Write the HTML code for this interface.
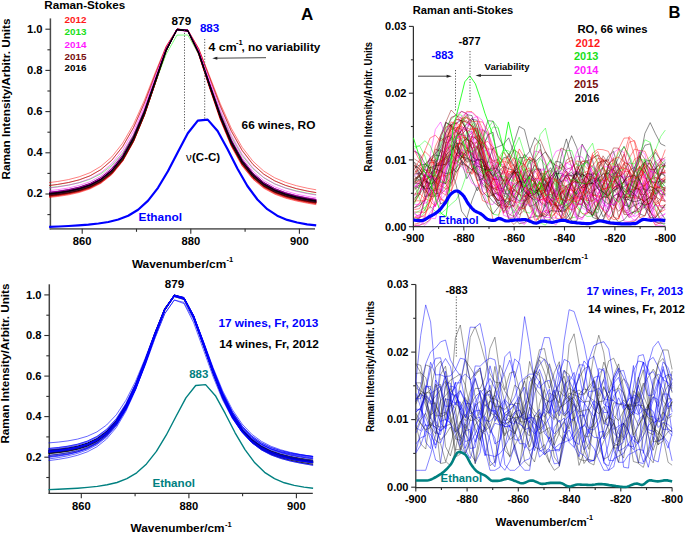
<!DOCTYPE html>
<html><head><meta charset="utf-8"><style>
html,body{margin:0;padding:0;background:#fff;}
svg{display:block;}
text{font-family:"Liberation Sans",sans-serif;}
</style></head><body>
<svg width="685" height="533" viewBox="0 0 685 533">
<rect width="685" height="533" fill="#fff"/>
<line x1="50.4" y1="18.4" x2="50.4" y2="229.5" stroke="#4a4a4a" stroke-width="1.5" />
<line x1="49.7" y1="228.8" x2="315" y2="228.8" stroke="#6a6a6a" stroke-width="1.8" />
<line x1="47.4" y1="214.6" x2="50.4" y2="214.6" stroke="#2e2e2e" stroke-width="1.1" />
<line x1="45.4" y1="194" x2="50.4" y2="194" stroke="#2e2e2e" stroke-width="1.1" />
<line x1="47.4" y1="173.4" x2="50.4" y2="173.4" stroke="#2e2e2e" stroke-width="1.1" />
<line x1="45.4" y1="152.8" x2="50.4" y2="152.8" stroke="#2e2e2e" stroke-width="1.1" />
<line x1="47.4" y1="132.2" x2="50.4" y2="132.2" stroke="#2e2e2e" stroke-width="1.1" />
<line x1="45.4" y1="111.6" x2="50.4" y2="111.6" stroke="#2e2e2e" stroke-width="1.1" />
<line x1="47.4" y1="91" x2="50.4" y2="91" stroke="#2e2e2e" stroke-width="1.1" />
<line x1="45.4" y1="70.4" x2="50.4" y2="70.4" stroke="#2e2e2e" stroke-width="1.1" />
<line x1="47.4" y1="49.8" x2="50.4" y2="49.8" stroke="#2e2e2e" stroke-width="1.1" />
<line x1="45.4" y1="29.2" x2="50.4" y2="29.2" stroke="#2e2e2e" stroke-width="1.1" />
<line x1="82.2" y1="228.8" x2="82.2" y2="233.8" stroke="#2e2e2e" stroke-width="1.1" />
<line x1="136.5" y1="228.8" x2="136.5" y2="231.8" stroke="#2e2e2e" stroke-width="1.1" />
<line x1="190.8" y1="228.8" x2="190.8" y2="233.8" stroke="#2e2e2e" stroke-width="1.1" />
<line x1="245.1" y1="228.8" x2="245.1" y2="231.8" stroke="#2e2e2e" stroke-width="1.1" />
<line x1="299.4" y1="228.8" x2="299.4" y2="233.8" stroke="#2e2e2e" stroke-width="1.1" />
<path d="M49.1,194.9 57.5,193.9 68.4,192.2 79.2,189.8 90.1,186.2 100.9,180.5 111.8,171.7 122.7,158.3 133.5,138.9 144.4,113 155.2,81.7 166.1,50.3 177,29.6 187.8,30.6 198.7,53.1 209.5,85.3 220.4,116.9 231.3,142.9 242.1,162.5 253,176.1 263.8,185.2 274.7,191.3 285.6,195.4 296.4,198.3 307.3,200.6 316.2,202.1" fill="none" stroke="#ff0000" stroke-width="0.5" stroke-linejoin="round" />
<path d="M49.1,195.7 57.5,194.8 68.4,193.1 79.2,190.8 90.1,187.3 100.9,181.8 111.8,173.2 122.7,160 133.5,140.8 144.4,114.8 155.2,83.2 166.1,51.2 177,29.8 187.8,30.8 198.7,53.8 209.5,86.6 220.4,118.5 231.3,144.7 242.1,164.1 253,177.6 263.8,186.5 274.7,192.4 285.6,196.4 296.4,199.2 307.3,201.4 316.2,202.9" fill="none" stroke="#ff0000" stroke-width="0.5" stroke-linejoin="round" />
<path d="M49.1,195.7 57.5,194.7 68.4,193.1 79.2,190.7 90.1,187.2 100.9,181.7 111.8,173 122.7,159.8 133.5,140.5 144.4,114.4 155.2,82.8 166.1,50.8 177,29.3 187.8,30.3 198.7,53.1 209.5,85.9 220.4,117.9 231.3,144.2 242.1,163.7 253,177.3 263.8,186.3 274.7,192.2 285.6,196.3 296.4,199.2 307.3,201.4 316.2,202.8" fill="none" stroke="#ff0000" stroke-width="0.5" stroke-linejoin="round" />
<path d="M49.1,194.9 57.5,194 68.4,192.3 79.2,190 90.1,186.4 100.9,180.9 111.8,172.3 122.7,159 133.5,139.8 144.4,113.9 155.2,82.4 166.1,50.7 177,29.5 187.8,30.5 198.7,53.3 209.5,85.9 220.4,117.6 231.3,143.7 242.1,163.1 253,176.6 263.8,185.6 274.7,191.5 285.6,195.5 296.4,198.4 307.3,200.6 316.2,202.1" fill="none" stroke="#ff0000" stroke-width="0.5" stroke-linejoin="round" />
<path d="M49.1,196.9 57.5,195.9 68.4,194.2 79.2,191.9 90.1,188.3 100.9,182.8 111.8,174.1 122.7,160.8 133.5,141.3 144.4,115 155.2,83.1 166.1,51 177,29.7 187.8,31.3 198.7,54.7 209.5,87.9 220.4,119.9 231.3,146.1 242.1,165.5 253,178.9 263.8,187.7 274.7,193.6 285.6,197.6 296.4,200.4 307.3,202.6 316.2,204.1" fill="none" stroke="#ff0000" stroke-width="0.5" stroke-linejoin="round" />
<path d="M49.1,197.5 57.5,196.5 68.4,194.9 79.2,192.5 90.1,188.9 100.9,183.4 111.8,174.7 122.7,161.3 133.5,141.8 144.4,115.4 155.2,83.3 166.1,50.8 177,29.3 187.8,30.7 198.7,54.3 209.5,87.6 220.4,119.9 231.3,146.3 242.1,165.9 253,179.3 263.8,188.3 274.7,194.2 285.6,198.2 296.4,201 307.3,203.2 316.2,204.7" fill="none" stroke="#ff0000" stroke-width="0.5" stroke-linejoin="round" />
<path d="M49.1,194.7 57.5,193.7 68.4,192.1 79.2,189.6 90.1,186 100.9,180.3 111.8,171.5 122.7,158.1 133.5,138.6 144.4,112.6 155.2,81.2 166.1,49.9 177,29.4 187.8,31.1 198.7,53.9 209.5,86.3 220.4,117.8 231.3,143.7 242.1,163 253,176.4 263.8,185.4 274.7,191.3 285.6,195.4 296.4,198.3 307.3,200.5 316.2,201.9" fill="none" stroke="#ff0000" stroke-width="0.5" stroke-linejoin="round" />
<path d="M49.1,195 57.5,194 68.4,192.3 79.2,189.9 90.1,186.2 100.9,180.6 111.8,171.7 122.7,158.3 133.5,138.8 144.4,112.8 155.2,81.5 166.1,50 177,29.4 187.8,30.8 198.7,53.5 209.5,85.9 220.4,117.4 231.3,143.4 242.1,162.9 253,176.4 263.8,185.5 274.7,191.5 285.6,195.6 296.4,198.5 307.3,200.7 316.2,202.2" fill="none" stroke="#ff0000" stroke-width="0.5" stroke-linejoin="round" />
<path d="M49.1,196.4 57.5,195.5 68.4,193.8 79.2,191.5 90.1,188 100.9,182.5 111.8,174 122.7,160.8 133.5,141.5 144.4,115.4 155.2,83.7 166.1,51.3 177,29.5 187.8,30.3 198.7,53.3 209.5,86.4 220.4,118.6 231.3,145 242.1,164.5 253,178.1 263.8,187.1 274.7,193 285.6,197 296.4,199.9 307.3,202.1 316.2,203.5" fill="none" stroke="#ff0000" stroke-width="0.5" stroke-linejoin="round" />
<path d="M49.1,194.8 57.5,193.8 68.4,192.1 79.2,189.7 90.1,186 100.9,180.2 111.8,171.3 122.7,157.8 133.5,138.3 144.4,112.3 155.2,81.1 166.1,49.8 177,29.2 187.8,30.4 198.7,52.8 209.5,84.8 220.4,116.4 231.3,142.5 242.1,162.1 253,175.8 263.8,185 274.7,191.1 285.6,195.3 296.4,198.3 307.3,200.5 316.2,202" fill="none" stroke="#ff0000" stroke-width="0.5" stroke-linejoin="round" />
<path d="M49.1,194.8 57.5,193.8 68.4,192.1 79.2,189.7 90.1,186 100.9,180.4 111.8,171.5 122.7,158.1 133.5,138.6 144.4,112.6 155.2,81.3 166.1,49.9 177,29.2 187.8,30.5 198.7,53.2 209.5,85.5 220.4,117.1 231.3,143.1 242.1,162.6 253,176.1 263.8,185.2 274.7,191.2 285.6,195.3 296.4,198.2 307.3,200.5 316.2,201.9" fill="none" stroke="#ff0000" stroke-width="0.5" stroke-linejoin="round" />
<path d="M49.1,193.3 57.5,192.3 68.4,190.7 79.2,188.3 90.1,184.8 100.9,179.3 111.8,170.7 122.7,157.6 133.5,138.5 144.4,112.9 155.2,81.8 166.1,50.3 177,29.2 187.8,30.1 198.7,52.4 209.5,84.6 220.4,116.1 231.3,142.1 242.1,161.4 253,174.9 263.8,183.9 274.7,189.8 285.6,193.9 296.4,196.8 307.3,198.9 316.2,200.4" fill="none" stroke="#ff0000" stroke-width="0.5" stroke-linejoin="round" />
<path d="M49.1,195.6 57.5,194.5 68.4,192.8 79.2,190.3 90.1,186.6 100.9,180.8 111.8,171.8 122.7,158.2 133.5,138.7 144.4,112.7 155.2,81.5 166.1,50.4 177,29.7 187.8,30.5 198.7,52.5 209.5,84.4 220.4,116 231.3,142.2 242.1,162 253,176 263.8,185.4 274.7,191.6 285.6,195.9 296.4,198.9 307.3,201.2 316.2,202.7" fill="none" stroke="#ff0000" stroke-width="0.5" stroke-linejoin="round" />
<path d="M49.1,194.8 57.5,193.8 68.4,192.1 79.2,189.6 90.1,186 100.9,180.3 111.8,171.4 122.7,157.9 133.5,138.5 144.4,112.6 155.2,81.4 166.1,50.2 177,29.5 187.8,30.5 198.7,52.9 209.5,85 220.4,116.5 231.3,142.5 242.1,162.1 253,175.8 263.8,185 274.7,191.1 285.6,195.2 296.4,198.2 307.3,200.4 316.2,201.9" fill="none" stroke="#ff0000" stroke-width="0.5" stroke-linejoin="round" />
<path d="M49.1,195 57.5,194 68.4,192.3 79.2,189.8 90.1,186.2 100.9,180.5 111.8,171.7 122.7,158.3 133.5,139 144.4,113.1 155.2,81.9 166.1,50.5 177,29.5 187.8,30.1 198.7,52.2 209.5,84.4 220.4,116 231.3,142.2 242.1,162 253,175.8 263.8,185 274.7,191.2 285.6,195.3 296.4,198.3 307.3,200.6 316.2,202.1" fill="none" stroke="#ff0000" stroke-width="0.5" stroke-linejoin="round" />
<path d="M49.1,182.6 57.5,181.5 68.4,179.6 79.2,176.8 90.1,172.7 100.9,166.3 111.8,156.9 122.7,143.1 133.5,124.3 144.4,100.3 155.2,72.7 166.1,46.2 177,29.2 187.8,30.1 198.7,48.5 209.5,75.9 220.4,103.9 231.3,128.2 242.1,147.2 253,161.3 263.8,171.1 274.7,177.8 285.6,182.4 296.4,185.7 307.3,188.2 316.2,189.8" fill="none" stroke="#ff0000" stroke-width="0.5" stroke-linejoin="round" />
<path d="M49.1,185.6 57.5,184.5 68.4,182.6 79.2,179.9 90.1,175.8 100.9,169.6 111.8,160.2 122.7,146.5 133.5,127.5 144.4,103.1 155.2,74.7 166.1,47.1 177,29.2 187.8,29.8 198.7,48.7 209.5,77 220.4,105.9 231.3,130.7 242.1,150.1 253,164.3 263.8,174.1 274.7,180.8 285.6,185.4 296.4,188.7 307.3,191.1 316.2,192.7" fill="none" stroke="#ff0000" stroke-width="0.5" stroke-linejoin="round" />
<path d="M49.1,194.4 57.5,193.5 68.4,191.8 79.2,189.4 90.1,185.8 100.9,180.2 111.8,171.4 122.7,158.1 133.5,138.8 144.4,113 155.2,81.8 166.1,50.4 177,29.6 187.8,30.7 198.7,53.1 209.5,85.3 220.4,116.8 231.3,142.8 242.1,162.3 253,175.8 263.8,184.9 274.7,190.9 285.6,195 296.4,197.9 307.3,200.1 316.2,201.6" fill="none" stroke="#8b0000" stroke-width="0.5" stroke-linejoin="round" />
<path d="M49.1,192.9 57.5,191.9 68.4,190.2 79.2,187.8 90.1,184.2 100.9,178.6 111.8,169.8 122.7,156.5 133.5,137.3 144.4,111.7 155.2,80.9 166.1,50 177,29.5 187.8,30.5 198.7,52.6 209.5,84.3 220.4,115.5 231.3,141.3 242.1,160.6 253,174.2 263.8,183.3 274.7,189.3 285.6,193.4 296.4,196.3 307.3,198.5 316.2,200" fill="none" stroke="#8b0000" stroke-width="0.5" stroke-linejoin="round" />
<path d="M49.1,195.3 57.5,194.4 68.4,192.8 79.2,190.4 90.1,186.9 100.9,181.5 111.8,173 122.7,159.8 133.5,140.6 144.4,114.7 155.2,83.1 166.1,50.9 177,29.3 187.8,30 198.7,52.8 209.5,85.7 220.4,117.7 231.3,144 242.1,163.5 253,177 263.8,186 274.7,191.9 285.6,195.9 296.4,198.8 307.3,201 316.2,202.5" fill="none" stroke="#8b0000" stroke-width="0.5" stroke-linejoin="round" />
<path d="M49.1,193 57.5,192 68.4,190.3 79.2,187.8 90.1,184.1 100.9,178.5 111.8,169.6 122.7,156.2 133.5,136.9 144.4,111.2 155.2,80.4 166.1,49.6 177,29.3 187.8,30.5 198.7,52.5 209.5,84.2 220.4,115.3 231.3,141.1 242.1,160.5 253,174.1 263.8,183.3 274.7,189.3 285.6,193.5 296.4,196.4 307.3,198.6 316.2,200.1" fill="none" stroke="#8b0000" stroke-width="0.5" stroke-linejoin="round" />
<path d="M49.1,195.1 57.5,194.1 68.4,192.4 79.2,190 90.1,186.4 100.9,180.8 111.8,172 122.7,158.6 133.5,139.2 144.4,113.2 155.2,81.8 166.1,50.2 177,29.3 187.8,30.4 198.7,53.1 209.5,85.5 220.4,117.1 231.3,143.3 242.1,162.8 253,176.4 263.8,185.5 274.7,191.5 285.6,195.6 296.4,198.5 307.3,200.7 316.2,202.2" fill="none" stroke="#8b0000" stroke-width="0.5" stroke-linejoin="round" />
<path d="M49.1,196.3 57.5,195.4 68.4,193.7 79.2,191.4 90.1,187.9 100.9,182.5 111.8,173.9 122.7,160.8 133.5,141.5 144.4,115.5 155.2,83.7 166.1,51.4 177,29.5 187.8,30.1 198.7,53 209.5,86 220.4,118.2 231.3,144.7 242.1,164.3 253,177.9 263.8,186.9 274.7,192.9 285.6,196.9 296.4,199.8 307.3,202 316.2,203.4" fill="none" stroke="#8b0000" stroke-width="0.5" stroke-linejoin="round" />
<path d="M49.1,195.7 57.5,194.8 68.4,193.1 79.2,190.7 90.1,187.1 100.9,181.5 111.8,172.8 122.7,159.5 133.5,140.1 144.4,114.2 155.2,82.8 166.1,51.1 177,29.8 187.8,30.5 198.7,52.9 209.5,85.3 220.4,117.1 231.3,143.4 242.1,163.1 253,176.8 263.8,186 274.7,192.1 285.6,196.2 296.4,199.1 307.3,201.4 316.2,202.8" fill="none" stroke="#8b0000" stroke-width="0.5" stroke-linejoin="round" />
<path d="M49.1,194.7 57.5,193.7 68.4,192 79.2,189.6 90.1,186 100.9,180.5 111.8,171.7 122.7,158.4 133.5,139 144.4,113 155.2,81.7 166.1,50.2 177,29.5 187.8,31 198.7,53.8 209.5,86.3 220.4,117.8 231.3,143.7 242.1,163 253,176.4 263.8,185.4 274.7,191.3 285.6,195.3 296.4,198.2 307.3,200.4 316.2,201.9" fill="none" stroke="#8b0000" stroke-width="0.5" stroke-linejoin="round" />
<path d="M49.1,194.3 57.5,193.3 68.4,191.6 79.2,189.2 90.1,185.6 100.9,179.9 111.8,171.1 122.7,157.7 133.5,138.3 144.4,112.4 155.2,81.2 166.1,50 177,29.4 187.8,30.6 198.7,53 209.5,85.1 220.4,116.6 231.3,142.5 242.1,162 253,175.6 263.8,184.7 274.7,190.8 285.6,194.9 296.4,197.8 307.3,200 316.2,201.5" fill="none" stroke="#8b0000" stroke-width="0.5" stroke-linejoin="round" />
<path d="M49.1,195.1 57.5,194.1 68.4,192.4 79.2,190 90.1,186.4 100.9,180.8 111.8,172 122.7,158.6 133.5,139.3 144.4,113.3 155.2,82 166.1,50.5 177,29.7 187.8,31 198.7,53.7 209.5,86.1 220.4,117.7 231.3,143.7 242.1,163.1 253,176.6 263.8,185.6 274.7,191.6 285.6,195.7 296.4,198.6 307.3,200.8 316.2,202.2" fill="none" stroke="#8b0000" stroke-width="0.5" stroke-linejoin="round" />
<path d="M49.1,192.5 57.5,191.6 68.4,189.9 79.2,187.4 90.1,183.8 100.9,178.2 111.8,169.4 122.7,156.1 133.5,136.9 144.4,111.3 155.2,80.5 166.1,49.7 177,29.2 187.8,30.1 198.7,52.1 209.5,83.7 220.4,114.9 231.3,140.7 242.1,160.1 253,173.7 263.8,182.8 274.7,188.9 285.6,193 296.4,196 307.3,198.2 316.2,199.7" fill="none" stroke="#8b0000" stroke-width="0.5" stroke-linejoin="round" />
<path d="M49.1,195 57.5,194 68.4,192.4 79.2,190 90.1,186.4 100.9,180.9 111.8,172.2 122.7,158.9 133.5,139.6 144.4,113.7 155.2,82.3 166.1,50.5 177,29.3 187.8,30.2 198.7,52.8 209.5,85.3 220.4,117.1 231.3,143.3 242.1,162.8 253,176.4 263.8,185.5 274.7,191.5 285.6,195.5 296.4,198.4 307.3,200.6 316.2,202.1" fill="none" stroke="#8b0000" stroke-width="0.5" stroke-linejoin="round" />
<path d="M49.1,194.5 57.5,193.5 68.4,191.9 79.2,189.5 90.1,185.8 100.9,180.2 111.8,171.5 122.7,158.2 133.5,138.9 144.4,113.1 155.2,81.9 166.1,50.5 177,29.5 187.8,30.2 198.7,52.4 209.5,84.5 220.4,116.1 231.3,142.3 242.1,161.9 253,175.6 263.8,184.8 274.7,190.8 285.6,195 296.4,197.9 307.3,200.1 316.2,201.6" fill="none" stroke="#8b0000" stroke-width="0.5" stroke-linejoin="round" />
<path d="M49.1,193.9 57.5,192.9 68.4,191.2 79.2,188.8 90.1,185.2 100.9,179.6 111.8,170.8 122.7,157.5 133.5,138.2 144.4,112.4 155.2,81.3 166.1,50.1 177,29.6 187.8,30.9 198.7,53.5 209.5,85.6 220.4,116.9 231.3,142.7 242.1,162 253,175.5 263.8,184.5 274.7,190.4 285.6,194.5 296.4,197.4 307.3,199.6 316.2,201" fill="none" stroke="#8b0000" stroke-width="0.5" stroke-linejoin="round" />
<path d="M49.1,193 57.5,192 68.4,190.3 79.2,187.9 90.1,184.3 100.9,178.6 111.8,169.8 122.7,156.5 133.5,137.3 144.4,111.7 155.2,80.9 166.1,50 177,29.5 187.8,30.4 198.7,52.3 209.5,83.9 220.4,115.1 231.3,141 242.1,160.4 253,174.1 263.8,183.2 274.7,189.3 285.6,193.5 296.4,196.4 307.3,198.6 316.2,200.1" fill="none" stroke="#8b0000" stroke-width="0.5" stroke-linejoin="round" />
<path d="M49.1,193 57.5,192 68.4,190.3 79.2,187.8 90.1,184.1 100.9,178.3 111.8,169.4 122.7,155.9 133.5,136.6 144.4,110.9 155.2,80.3 166.1,49.9 177,29.8 187.8,30.9 198.7,52.6 209.5,84 220.4,114.9 231.3,140.7 242.1,160.1 253,173.8 263.8,183.1 274.7,189.3 285.6,193.5 296.4,196.4 307.3,198.7 316.2,200.2" fill="none" stroke="#8b0000" stroke-width="0.5" stroke-linejoin="round" />
<path d="M49.1,195.9 57.5,194.9 68.4,193.2 79.2,190.8 90.1,187.1 100.9,181.5 111.8,172.6 122.7,159.2 133.5,139.7 144.4,113.7 155.2,82.2 166.1,50.6 177,29.6 187.8,30.5 198.7,52.9 209.5,85.3 220.4,117.1 231.3,143.4 242.1,163.1 253,176.9 263.8,186.1 274.7,192.2 285.6,196.3 296.4,199.3 307.3,201.5 316.2,203" fill="none" stroke="#8b0000" stroke-width="0.5" stroke-linejoin="round" />
<path d="M49.1,185.5 57.5,184.4 68.4,182.5 79.2,179.8 90.1,175.8 100.9,169.6 111.8,160.2 122.7,146.5 133.5,127.5 144.4,103 155.2,74.6 166.1,47 177,29.2 187.8,30.1 198.7,49.3 209.5,77.8 220.4,106.6 231.3,131.4 242.1,150.6 253,164.6 263.8,174.3 274.7,180.9 285.6,185.4 296.4,188.6 307.3,191 316.2,192.6" fill="none" stroke="#8b0000" stroke-width="0.5" stroke-linejoin="round" />
<path d="M49.1,192.2 57.5,191.2 68.4,189.5 79.2,187.1 90.1,183.5 100.9,177.8 111.8,169.1 122.7,155.8 133.5,136.7 144.4,111.2 155.2,80.6 166.1,50 177,29.7 187.8,30.7 198.7,52.4 209.5,83.9 220.4,114.8 231.3,140.5 242.1,159.8 253,173.4 263.8,182.5 274.7,188.6 285.6,192.7 296.4,195.6 307.3,197.9 316.2,199.3" fill="none" stroke="#00ff00" stroke-width="0.5" stroke-linejoin="round" />
<path d="M49.1,193.2 57.5,192.3 68.4,190.6 79.2,188.2 90.1,184.5 100.9,178.9 111.8,170.2 122.7,156.9 133.5,137.7 144.4,112.1 155.2,81.3 166.1,50.3 177,29.7 187.8,30.5 198.7,52.4 209.5,84.1 220.4,115.3 231.3,141.2 242.1,160.7 253,174.3 263.8,183.5 274.7,189.6 285.6,193.7 296.4,196.6 307.3,198.9 316.2,200.4" fill="none" stroke="#00ff00" stroke-width="0.5" stroke-linejoin="round" />
<path d="M49.1,194.4 57.5,193.4 68.4,191.8 79.2,189.4 90.1,185.8 100.9,180.3 111.8,171.7 122.7,158.5 133.5,139.4 144.4,113.7 155.2,82.5 166.1,51.1 177,30 187.8,30.9 198.7,53.3 209.5,85.5 220.4,117 231.3,143 242.1,162.4 253,175.9 263.8,184.9 274.7,190.9 285.6,194.9 296.4,197.8 307.3,200 316.2,201.5" fill="none" stroke="#00ff00" stroke-width="0.5" stroke-linejoin="round" />
<path d="M49.1,187.6 57.5,186.7 68.4,185.1 79.2,182.7 90.1,179.2 100.9,173.8 111.8,165.4 122.7,152.9 133.5,134.9 144.4,111.2 155.2,82.8 166.1,54.4 177,35.1 187.8,35 198.7,54.2 209.5,83.1 220.4,112.1 231.3,136.6 242.1,155.4 253,168.7 263.8,177.8 274.7,183.9 285.6,188 296.4,190.9 307.3,193.2 316.2,194.6" fill="none" stroke="#00ff00" stroke-width="0.5" stroke-linejoin="round" />
<path d="M49.1,193.1 57.5,192.1 68.4,190.4 79.2,188 90.1,184.3 100.9,178.7 111.8,169.9 122.7,156.6 133.5,137.5 144.4,111.9 155.2,81.1 166.1,50.1 177,29.5 187.8,30.2 198.7,52 209.5,83.6 220.4,114.8 231.3,140.8 242.1,160.3 253,174 263.8,183.2 274.7,189.3 285.6,193.5 296.4,196.4 307.3,198.7 316.2,200.2" fill="none" stroke="#ff00ff" stroke-width="0.5" stroke-linejoin="round" />
<path d="M49.1,192.9 57.5,191.9 68.4,190.3 79.2,187.8 90.1,184.2 100.9,178.6 111.8,169.8 122.7,156.5 133.5,137.3 144.4,111.7 155.2,81 166.1,50.2 177,29.8 187.8,30.9 198.7,52.9 209.5,84.5 220.4,115.6 231.3,141.4 242.1,160.7 253,174.2 263.8,183.3 274.7,189.4 285.6,193.4 296.4,196.4 307.3,198.6 316.2,200.1" fill="none" stroke="#ff00ff" stroke-width="0.5" stroke-linejoin="round" />
<path d="M49.1,193 57.5,192 68.4,190.4 79.2,187.9 90.1,184.3 100.9,178.7 111.8,169.9 122.7,156.5 133.5,137.3 144.4,111.6 155.2,80.8 166.1,49.8 177,29.2 187.8,30.2 198.7,52.2 209.5,83.9 220.4,115.2 231.3,141.1 242.1,160.5 253,174.2 263.8,183.3 274.7,189.4 285.6,193.5 296.4,196.4 307.3,198.7 316.2,200.2" fill="none" stroke="#ff00ff" stroke-width="0.5" stroke-linejoin="round" />
<path d="M49.1,192.8 57.5,191.9 68.4,190.2 79.2,187.8 90.1,184.2 100.9,178.7 111.8,170 122.7,156.8 133.5,137.6 144.4,112 155.2,81.1 166.1,50 177,29.4 187.8,30.4 198.7,52.6 209.5,84.5 220.4,115.7 231.3,141.6 242.1,160.9 253,174.3 263.8,183.4 274.7,189.3 285.6,193.4 296.4,196.3 307.3,198.5 316.2,200" fill="none" stroke="#ff00ff" stroke-width="0.5" stroke-linejoin="round" />
<path d="M49.1,190.7 57.5,189.7 68.4,188 79.2,185.4 90.1,181.7 100.9,175.9 111.8,166.9 122.7,153.4 133.5,134.3 144.4,109 155.2,78.9 166.1,49.1 177,29.5 187.8,30.4 198.7,51.6 209.5,82.2 220.4,112.7 231.3,138.2 242.1,157.5 253,171.3 263.8,180.6 274.7,186.8 285.6,191 296.4,194.1 307.3,196.3 316.2,197.9" fill="none" stroke="#ff00ff" stroke-width="0.5" stroke-linejoin="round" />
<path d="M49.1,192.7 57.5,191.7 68.4,190 79.2,187.5 90.1,183.7 100.9,177.9 111.8,168.9 122.7,155.4 133.5,136.1 144.4,110.5 155.2,79.9 166.1,49.5 177,29.4 187.8,30.4 198.7,52 209.5,83.3 220.4,114.2 231.3,140 242.1,159.5 253,173.3 263.8,182.6 274.7,188.8 285.6,193.1 296.4,196.1 307.3,198.4 316.2,199.9" fill="none" stroke="#ff00ff" stroke-width="0.5" stroke-linejoin="round" />
<path d="M49.1,194.1 57.5,193.2 68.4,191.5 79.2,189 90.1,185.3 100.9,179.6 111.8,170.8 122.7,157.3 133.5,138 144.4,112.1 155.2,81.2 166.1,50.3 177,30 187.8,31.4 198.7,53.8 209.5,85.7 220.4,116.8 231.3,142.6 242.1,162 253,175.5 263.8,184.6 274.7,190.6 285.6,194.7 296.4,197.6 307.3,199.9 316.2,201.3" fill="none" stroke="#ff00ff" stroke-width="0.5" stroke-linejoin="round" />
<path d="M49.1,193 57.5,192 68.4,190.4 79.2,188 90.1,184.4 100.9,178.9 111.8,170.2 122.7,157 133.5,137.9 144.4,112.4 155.2,81.6 166.1,50.7 177,30.1 187.8,31.1 198.7,53.2 209.5,84.9 220.4,116 231.3,141.8 242.1,161 253,174.5 263.8,183.5 274.7,189.5 285.6,193.6 296.4,196.5 307.3,198.7 316.2,200.1" fill="none" stroke="#ff00ff" stroke-width="0.5" stroke-linejoin="round" />
<path d="M49.1,193.6 57.5,192.7 68.4,191 79.2,188.6 90.1,185 100.9,179.4 111.8,170.7 122.7,157.4 133.5,138.2 144.4,112.5 155.2,81.4 166.1,50.2 177,29.4 187.8,30.4 198.7,52.6 209.5,84.7 220.4,116.1 231.3,142 242.1,161.4 253,175 263.8,184.1 274.7,190.1 285.6,194.2 296.4,197.1 307.3,199.3 316.2,200.8" fill="none" stroke="#ff00ff" stroke-width="0.5" stroke-linejoin="round" />
<path d="M49.1,192.7 57.5,191.7 68.4,190 79.2,187.6 90.1,183.9 100.9,178.3 111.8,169.5 122.7,156.2 133.5,137 144.4,111.4 155.2,80.7 166.1,49.9 177,29.4 187.8,30.2 198.7,52 209.5,83.6 220.4,114.7 231.3,140.6 242.1,160 253,173.7 263.8,182.9 274.7,189 285.6,193.1 296.4,196.1 307.3,198.3 316.2,199.8" fill="none" stroke="#ff00ff" stroke-width="0.5" stroke-linejoin="round" />
<path d="M49.1,193.8 57.5,192.9 68.4,191.2 79.2,188.8 90.1,185.1 100.9,179.5 111.8,170.7 122.7,157.4 133.5,138.1 144.4,112.4 155.2,81.4 166.1,50.3 177,29.6 187.8,30.6 198.7,52.8 209.5,84.7 220.4,116.1 231.3,142 242.1,161.5 253,175.1 263.8,184.2 274.7,190.2 285.6,194.3 296.4,197.3 307.3,199.5 316.2,201" fill="none" stroke="#ff00ff" stroke-width="0.5" stroke-linejoin="round" />
<path d="M49.1,192.2 57.5,191.2 68.4,189.5 79.2,187.1 90.1,183.5 100.9,177.9 111.8,169.2 122.7,156 133.5,136.9 144.4,111.4 155.2,80.7 166.1,49.9 177,29.3 187.8,30 198.7,51.9 209.5,83.4 220.4,114.6 231.3,140.4 242.1,159.8 253,173.4 263.8,182.5 274.7,188.5 285.6,192.6 296.4,195.6 307.3,197.8 316.2,199.3" fill="none" stroke="#ff00ff" stroke-width="0.5" stroke-linejoin="round" />
<path d="M49.1,192.4 57.5,191.4 68.4,189.7 79.2,187.3 90.1,183.7 100.9,178.1 111.8,169.4 122.7,156.1 133.5,137 144.4,111.5 155.2,80.9 166.1,50.3 177,30 187.8,31 198.7,52.9 209.5,84.4 220.4,115.3 231.3,141 242.1,160.2 253,173.7 263.8,182.8 274.7,188.8 285.6,192.9 296.4,195.8 307.3,198.1 316.2,199.5" fill="none" stroke="#ff00ff" stroke-width="0.5" stroke-linejoin="round" />
<path d="M49.1,193.9 57.5,192.9 68.4,191.2 79.2,188.7 90.1,185 100.9,179.3 111.8,170.4 122.7,156.9 133.5,137.4 144.4,111.6 155.2,80.6 166.1,49.7 177,29.5 187.8,31.1 198.7,53.5 209.5,85.3 220.4,116.5 231.3,142.3 242.1,161.7 253,175.2 263.8,184.3 274.7,190.4 285.6,194.5 296.4,197.4 307.3,199.6 316.2,201.1" fill="none" stroke="#ff00ff" stroke-width="0.5" stroke-linejoin="round" />
<path d="M49.1,194.7 57.5,193.7 68.4,192 79.2,189.5 90.1,185.8 100.9,180.1 111.8,171.2 122.7,157.7 133.5,138.2 144.4,112.3 155.2,81.2 166.1,50 177,29.5 187.8,30.7 198.7,53.1 209.5,85.1 220.4,116.5 231.3,142.6 242.1,162.1 253,175.8 263.8,184.9 274.7,191 285.6,195.2 296.4,198.1 307.3,200.4 316.2,201.9" fill="none" stroke="#ff00ff" stroke-width="0.5" stroke-linejoin="round" />
<path d="M49.1,192.5 57.5,191.5 68.4,189.9 79.2,187.5 90.1,184 100.9,178.5 111.8,169.9 122.7,156.8 133.5,137.9 144.4,112.4 155.2,81.7 166.1,50.6 177,29.8 187.8,30.5 198.7,52.5 209.5,84.2 220.4,115.4 231.3,141.2 242.1,160.5 253,174 263.8,183 274.7,189 285.6,193 296.4,195.9 307.3,198.1 316.2,199.6" fill="none" stroke="#ff00ff" stroke-width="0.5" stroke-linejoin="round" />
<path d="M49.1,188 57.5,187 68.4,185.2 79.2,182.6 90.1,178.7 100.9,172.8 111.8,163.7 122.7,150.1 133.5,131.1 144.4,106.1 155.2,76.8 166.1,48 177,29.2 187.8,30.1 198.7,50.4 209.5,80.1 220.4,109.8 231.3,134.9 242.1,154.2 253,168 263.8,177.5 274.7,183.9 285.6,188.2 296.4,191.3 307.3,193.6 316.2,195.1" fill="none" stroke="#ff00ff" stroke-width="0.5" stroke-linejoin="round" />
<path d="M49.1,192.5 57.5,191.5 68.4,189.7 79.2,187.2 90.1,183.4 100.9,177.5 111.8,168.5 122.7,154.9 133.5,135.5 144.4,109.9 155.2,79.6 166.1,49.5 177,29.9 187.8,31.1 198.7,52.6 209.5,83.6 220.4,114.3 231.3,139.9 242.1,159.4 253,173.1 263.8,182.4 274.7,188.6 285.6,192.9 296.4,195.9 307.3,198.2 316.2,199.7" fill="none" stroke="#000000" stroke-width="0.5" stroke-linejoin="round" />
<path d="M49.1,193.5 57.5,192.5 68.4,190.9 79.2,188.5 90.1,184.9 100.9,179.4 111.8,170.7 122.7,157.5 133.5,138.4 144.4,112.6 155.2,81.6 166.1,50.3 177,29.5 187.8,30.6 198.7,52.9 209.5,85 220.4,116.4 231.3,142.3 242.1,161.6 253,175.1 263.8,184.1 274.7,190.1 285.6,194.1 296.4,197 307.3,199.2 316.2,200.7" fill="none" stroke="#000000" stroke-width="0.5" stroke-linejoin="round" />
<path d="M49.1,195.2 57.5,194.3 68.4,192.7 79.2,190.4 90.1,186.9 100.9,181.5 111.8,173.1 122.7,160 133.5,140.9 144.4,114.9 155.2,83.2 166.1,50.9 177,29.2 187.8,30.2 198.7,53.4 209.5,86.5 220.4,118.5 231.3,144.7 242.1,164 253,177.4 263.8,186.2 274.7,192 285.6,195.9 296.4,198.8 307.3,200.9 316.2,202.3" fill="none" stroke="#000000" stroke-width="0.5" stroke-linejoin="round" />
<path d="M49.1,194 57.5,193.1 68.4,191.4 79.2,188.9 90.1,185.3 100.9,179.7 111.8,170.8 122.7,157.5 133.5,138.1 144.4,112.3 155.2,81.3 166.1,50.3 177,29.8 187.8,31 198.7,53.4 209.5,85.3 220.4,116.6 231.3,142.4 242.1,161.8 253,175.4 263.8,184.5 274.7,190.5 285.6,194.6 296.4,197.5 307.3,199.7 316.2,201.2" fill="none" stroke="#000000" stroke-width="0.5" stroke-linejoin="round" />
<path d="M49.1,194.1 57.5,193.1 68.4,191.5 79.2,189.1 90.1,185.5 100.9,179.9 111.8,171.2 122.7,157.9 133.5,138.6 144.4,112.7 155.2,81.5 166.1,50.1 177,29.4 187.8,30.8 198.7,53.6 209.5,86 220.4,117.4 231.3,143.3 242.1,162.5 253,175.9 263.8,184.9 274.7,190.8 285.6,194.8 296.4,197.7 307.3,199.8 316.2,201.3" fill="none" stroke="#000000" stroke-width="0.5" stroke-linejoin="round" />
<path d="M49.1,193.9 57.5,192.9 68.4,191.2 79.2,188.7 90.1,185 100.9,179.3 111.8,170.4 122.7,156.9 133.5,137.6 144.4,111.7 155.2,80.8 166.1,49.8 177,29.5 187.8,30.7 198.7,52.9 209.5,84.8 220.4,116 231.3,141.9 242.1,161.4 253,175 263.8,184.1 274.7,190.2 285.6,194.4 296.4,197.3 307.3,199.5 316.2,201" fill="none" stroke="#000000" stroke-width="0.5" stroke-linejoin="round" />
<path d="M49.1,194.6 57.5,193.7 68.4,192 79.2,189.7 90.1,186.1 100.9,180.6 111.8,172 122.7,158.7 133.5,139.5 144.4,113.6 155.2,82.3 166.1,50.6 177,29.5 187.8,30.5 198.7,53.1 209.5,85.6 220.4,117.3 231.3,143.3 242.1,162.8 253,176.3 263.8,185.3 274.7,191.2 285.6,195.2 296.4,198.1 307.3,200.3 316.2,201.8" fill="none" stroke="#000000" stroke-width="0.5" stroke-linejoin="round" />
<path d="M49.1,193.6 57.5,192.7 68.4,191 79.2,188.5 90.1,184.9 100.9,179.3 111.8,170.5 122.7,157.2 133.5,138 144.4,112.4 155.2,81.6 166.1,50.6 177,29.8 187.8,30.3 198.7,52 209.5,83.6 220.4,114.9 231.3,141 242.1,160.6 253,174.4 263.8,183.7 274.7,189.8 285.6,194 296.4,197 307.3,199.2 316.2,200.7" fill="none" stroke="#000000" stroke-width="0.5" stroke-linejoin="round" />
<path d="M49.1,193.3 57.5,192.4 68.4,190.7 79.2,188.3 90.1,184.6 100.9,179 111.8,170.2 122.7,156.8 133.5,137.6 144.4,112 155.2,81.2 166.1,50.3 177,29.8 187.8,30.8 198.7,52.8 209.5,84.5 220.4,115.7 231.3,141.5 242.1,161 253,174.5 263.8,183.7 274.7,189.7 285.6,193.8 296.4,196.8 307.3,199 316.2,200.5" fill="none" stroke="#000000" stroke-width="0.5" stroke-linejoin="round" />
<path d="M49.1,194.1 57.5,193.1 68.4,191.3 79.2,188.9 90.1,185.2 100.9,179.4 111.8,170.5 122.7,157 133.5,137.6 144.4,111.8 155.2,80.8 166.1,49.7 177,29.2 187.8,30.3 198.7,52.3 209.5,84.2 220.4,115.5 231.3,141.6 242.1,161.2 253,174.9 263.8,184.2 274.7,190.3 285.6,194.5 296.4,197.5 307.3,199.7 316.2,201.2" fill="none" stroke="#000000" stroke-width="0.5" stroke-linejoin="round" />
<path d="M49.1,226.8 58.6,226.5 68.6,226 78.5,225.4 88.4,224.6 98.4,223.5 108.3,222 118.3,219.5 128.2,215.7 138.1,209.7 148.1,200.6 158,187.8 167.9,171.3 177.9,152 187.8,133.3 197.8,120.6 207.7,119.6 217.6,131 227.6,149.3 237.5,168.8 247.4,186 257.4,199.5 267.3,209.2 277.2,215.7 287.2,219.9 297.1,222.5 307.1,224.3 316.2,225.4" fill="none" stroke="#0000ff" stroke-width="2.2" stroke-linejoin="round" />
<line x1="184.5" y1="30" x2="184.5" y2="131" stroke="#444" stroke-width="0.9" stroke-dasharray="1.2,1.6"/>
<line x1="204.7" y1="39" x2="204.7" y2="119" stroke="#444" stroke-width="0.9" stroke-dasharray="1.2,1.6"/>
<line x1="215" y1="58.2" x2="266" y2="57.7" stroke="#333" stroke-width="0.9" />
<path d="M212.3,58.3 L217.3,56.8 L217.3,59.8 Z" fill="#222"/>
<text x="44.3" y="8.6" font-size="11.5" fill="#000" text-anchor="start" font-weight="bold" textLength="81" lengthAdjust="spacingAndGlyphs" >Raman-Stokes</text>
<text x="300.9" y="19.7" font-size="17" fill="#000" text-anchor="start" font-weight="bold" >A</text>
<text x="64.5" y="23.1" font-size="9.6" fill="#ff1a1a" text-anchor="start" font-weight="bold" textLength="22" lengthAdjust="spacingAndGlyphs" >2012</text>
<text x="64.5" y="35.3" font-size="9.6" fill="#1adf1a" text-anchor="start" font-weight="bold" textLength="22" lengthAdjust="spacingAndGlyphs" >2013</text>
<text x="64.5" y="47.7" font-size="9.6" fill="#ff1aff" text-anchor="start" font-weight="bold" textLength="22" lengthAdjust="spacingAndGlyphs" >2014</text>
<text x="64.5" y="59.8" font-size="9.6" fill="#7a1010" text-anchor="start" font-weight="bold" textLength="22" lengthAdjust="spacingAndGlyphs" >2015</text>
<text x="64.5" y="71" font-size="9.6" fill="#000" text-anchor="start" font-weight="bold" textLength="22" lengthAdjust="spacingAndGlyphs" >2016</text>
<text x="171.6" y="25" font-size="11" fill="#000" text-anchor="start" font-weight="bold" textLength="19.6" lengthAdjust="spacingAndGlyphs" >879</text>
<text x="199.9" y="32" font-size="11" fill="#0000ff" text-anchor="start" font-weight="bold" textLength="19.4" lengthAdjust="spacingAndGlyphs" >883</text>
<text x="208.5" y="50.5" font-size="11.5" fill="#000" text-anchor="start" font-weight="bold" textLength="28.2" lengthAdjust="spacingAndGlyphs" >4 cm</text>
<text x="236" y="45" font-size="7.5" fill="#000" text-anchor="start" font-weight="bold" >-1</text>
<text x="241.5" y="50.5" font-size="11.5" fill="#000" text-anchor="start" font-weight="bold" textLength="78.8" lengthAdjust="spacingAndGlyphs" >, no variability</text>
<text x="241.6" y="129.1" font-size="11.2" fill="#000" text-anchor="start" font-weight="bold" textLength="73.8" lengthAdjust="spacingAndGlyphs" >66 wines, RO</text>
<text x="186" y="160.9" font-size="11.5" fill="#000" text-anchor="start" font-weight="normal" >&#957;</text>
<text x="192" y="160.9" font-size="10.8" fill="#000" text-anchor="start" font-weight="bold" textLength="28.2" lengthAdjust="spacingAndGlyphs" >(C-C)</text>
<text x="138.5" y="220.8" font-size="11.5" fill="#0000ff" text-anchor="start" font-weight="bold" textLength="43.5" lengthAdjust="spacingAndGlyphs" >Ethanol</text>
<text x="42.5" y="32.5" font-size="11.2" fill="#000" text-anchor="end" font-weight="bold" >1.0</text>
<text x="42.5" y="73.7" font-size="11.2" fill="#000" text-anchor="end" font-weight="bold" >0.8</text>
<text x="42.5" y="114.9" font-size="11.2" fill="#000" text-anchor="end" font-weight="bold" >0.6</text>
<text x="42.5" y="156.1" font-size="11.2" fill="#000" text-anchor="end" font-weight="bold" >0.4</text>
<text x="42.5" y="197.3" font-size="11.2" fill="#000" text-anchor="end" font-weight="bold" >0.2</text>
<text x="82.2" y="244.9" font-size="11.2" fill="#000" text-anchor="middle" font-weight="bold" >860</text>
<text x="190.8" y="244.9" font-size="11.2" fill="#000" text-anchor="middle" font-weight="bold" >880</text>
<text x="299.4" y="244.9" font-size="11.2" fill="#000" text-anchor="middle" font-weight="bold" >900</text>
<text x="131.9" y="267.7" font-size="11.6" fill="#000" text-anchor="start" font-weight="bold" textLength="94.3" lengthAdjust="spacingAndGlyphs" >Wavenumber/cm</text>
<text x="226.5" y="262.3" font-size="7.5" fill="#000" text-anchor="start" font-weight="bold" >-1</text>
<text transform="translate(9.6,99.0) rotate(-90)" font-size="11.7" font-weight="bold" text-anchor="middle" textLength="161" lengthAdjust="spacingAndGlyphs">Raman Intensity/Arbitr. Units</text>
<line x1="49.3" y1="284.3" x2="49.3" y2="494" stroke="#444" stroke-width="1.5" />
<line x1="48.6" y1="493.3" x2="312.8" y2="493.3" stroke="#333" stroke-width="1.3" />
<line x1="46.3" y1="477.5" x2="49.3" y2="477.5" stroke="#2e2e2e" stroke-width="1.1" />
<line x1="44.3" y1="457.2" x2="49.3" y2="457.2" stroke="#2e2e2e" stroke-width="1.1" />
<line x1="46.3" y1="436.9" x2="49.3" y2="436.9" stroke="#2e2e2e" stroke-width="1.1" />
<line x1="44.3" y1="416.6" x2="49.3" y2="416.6" stroke="#2e2e2e" stroke-width="1.1" />
<line x1="46.3" y1="396.4" x2="49.3" y2="396.4" stroke="#2e2e2e" stroke-width="1.1" />
<line x1="44.3" y1="376.1" x2="49.3" y2="376.1" stroke="#2e2e2e" stroke-width="1.1" />
<line x1="46.3" y1="355.8" x2="49.3" y2="355.8" stroke="#2e2e2e" stroke-width="1.1" />
<line x1="44.3" y1="335.5" x2="49.3" y2="335.5" stroke="#2e2e2e" stroke-width="1.1" />
<line x1="46.3" y1="315.2" x2="49.3" y2="315.2" stroke="#2e2e2e" stroke-width="1.1" />
<line x1="44.3" y1="294.9" x2="49.3" y2="294.9" stroke="#2e2e2e" stroke-width="1.1" />
<line x1="81.3" y1="493.3" x2="81.3" y2="498.3" stroke="#2e2e2e" stroke-width="1.1" />
<line x1="135.1" y1="493.3" x2="135.1" y2="496.3" stroke="#2e2e2e" stroke-width="1.1" />
<line x1="188.9" y1="493.3" x2="188.9" y2="498.3" stroke="#2e2e2e" stroke-width="1.1" />
<line x1="242.6" y1="493.3" x2="242.6" y2="496.3" stroke="#2e2e2e" stroke-width="1.1" />
<line x1="296.4" y1="493.3" x2="296.4" y2="498.3" stroke="#2e2e2e" stroke-width="1.1" />
<path d="M48.5,450.7 58.2,449.8 67.9,448.6 77.5,446.7 87.2,443.7 96.9,439.2 106.6,432.1 116.3,421.5 125.9,406.4 135.6,386.2 145.3,361.4 155,334.1 164.7,309.5 174.3,295.5 184,298.4 193.7,317.1 203.4,343.9 213.1,371.6 222.7,396 232.4,415.5 242.1,430 251.8,440.2 261.5,447.2 271.1,452 280.8,455.3 290.5,457.7 300.2,459.6 309.9,461.2 313.1,461.7" fill="none" stroke="#000000" stroke-width="0.6" stroke-linejoin="round" />
<path d="M48.5,453.4 58.2,452.5 67.9,451.1 77.5,449.1 87.2,446.1 96.9,441.3 106.6,434 116.3,423.1 125.9,407.7 135.6,387.2 145.3,362.1 155,334.8 164.7,310.3 174.3,296.5 184,299.7 193.7,318.5 203.4,345.4 213.1,373.1 222.7,397.7 232.4,417.3 242.1,432 251.8,442.4 261.5,449.5 271.1,454.4 280.8,457.8 290.5,460.3 300.2,462.3 309.9,463.8 313.1,464.3" fill="none" stroke="#000000" stroke-width="0.6" stroke-linejoin="round" />
<path d="M48.5,453.8 58.2,452.8 67.9,451.4 77.5,449.4 87.2,446.4 96.9,441.8 106.6,434.6 116.3,423.9 125.9,408.5 135.6,387.8 145.3,362.3 155,334.3 164.7,309 174.3,294.9 184,298.6 193.7,318.3 203.4,345.9 213.1,374 222.7,398.5 232.4,417.8 242.1,432 251.8,441.9 261.5,448.6 271.1,453.1 280.8,456.2 290.5,458.5 300.2,460.3 309.9,461.7 313.1,462.1" fill="none" stroke="#000000" stroke-width="0.6" stroke-linejoin="round" />
<path d="M48.5,452.5 58.2,451.6 67.9,450.3 77.5,448.4 87.2,445.5 96.9,441 106.6,434 116.3,423.5 125.9,408.3 135.6,388.1 145.3,363 155,335.3 164.7,310.1 174.3,295.5 184,298.2 193.7,317 203.4,344.2 213.1,372.3 222.7,396.9 232.4,416.6 242.1,431.1 251.8,441.4 261.5,448.3 271.1,453 280.8,456.3 290.5,458.7 300.2,460.6 309.9,462.1 313.1,462.6" fill="none" stroke="#000000" stroke-width="0.6" stroke-linejoin="round" />
<path d="M48.5,451.8 58.2,450.8 67.9,449.4 77.5,447.3 87.2,444.1 96.9,439.3 106.6,431.9 116.3,421 125.9,405.5 135.6,385.2 145.3,360.4 155,333.4 164.7,309.3 174.3,295.6 184,298.4 193.7,316.6 203.4,342.9 213.1,370.2 222.7,394.5 232.4,414 242.1,428.7 251.8,439.1 261.5,446.3 271.1,451.2 280.8,454.6 290.5,457 300.2,458.9 309.9,460.5 313.1,460.9" fill="none" stroke="#000000" stroke-width="0.6" stroke-linejoin="round" />
<path d="M48.5,451.2 58.2,450.2 67.9,448.8 77.5,446.8 87.2,443.6 96.9,438.8 106.6,431.3 116.3,420.3 125.9,404.8 135.6,384.3 145.3,359.5 155,332.6 164.7,308.7 174.3,295.4 184,298.9 193.7,317.5 203.4,344 213.1,371.3 222.7,395.5 232.4,415 242.1,429.6 251.8,440.1 261.5,447.2 271.1,452.1 280.8,455.6 290.5,458.1 300.2,460.1 309.9,461.7 313.1,462.1" fill="none" stroke="#000000" stroke-width="0.6" stroke-linejoin="round" />
<path d="M48.5,455.4 58.2,454.4 67.9,452.9 77.5,450.9 87.2,447.7 96.9,442.9 106.6,435.6 116.3,424.7 125.9,409.1 135.6,388.5 145.3,363.2 155,335.4 164.7,310.1 174.3,295.5 184,298 193.7,316.6 203.4,343.6 213.1,371.6 222.7,396.4 232.4,416.3 242.1,431.1 251.8,441.6 261.5,448.7 271.1,453.5 280.8,456.8 290.5,459.2 300.2,461.1 309.9,462.5 313.1,463" fill="none" stroke="#000000" stroke-width="0.6" stroke-linejoin="round" />
<path d="M48.5,450.2 58.2,449.4 67.9,448.1 77.5,446.1 87.2,443.1 96.9,438.5 106.6,431.4 116.3,420.7 125.9,405.6 135.6,385.5 145.3,360.9 155,333.9 164.7,309.7 174.3,295.7 184,298.3 193.7,316.5 203.4,342.9 213.1,370.4 222.7,394.8 232.4,414.4 242.1,429.1 251.8,439.6 261.5,446.8 271.1,451.8 280.8,455.2 290.5,457.8 300.2,459.8 309.9,461.4 313.1,461.9" fill="none" stroke="#000000" stroke-width="0.6" stroke-linejoin="round" />
<path d="M48.5,451.3 58.2,450.3 67.9,448.9 77.5,446.9 87.2,443.7 96.9,438.9 106.6,431.5 116.3,420.5 125.9,405 135.6,384.5 145.3,359.5 155,332.4 164.7,308.4 174.3,295.2 184,298.8 193.7,317.8 203.4,344.4 213.1,371.8 222.7,396 232.4,415.3 242.1,429.7 251.8,439.9 261.5,446.9 271.1,451.7 280.8,455.1 290.5,457.5 300.2,459.4 309.9,460.9 313.1,461.4" fill="none" stroke="#000000" stroke-width="0.6" stroke-linejoin="round" />
<path d="M48.5,450.8 58.2,449.9 67.9,448.7 77.5,446.8 87.2,443.9 96.9,439.3 106.6,432.3 116.3,421.8 125.9,406.7 135.6,386.5 145.3,361.6 155,334.2 164.7,309.4 174.3,295.2 184,298.1 193.7,316.9 203.4,343.8 213.1,371.6 222.7,396.1 232.4,415.6 242.1,430.1 251.8,440.3 261.5,447.3 271.1,452.1 280.8,455.4 290.5,457.8 300.2,459.7 309.9,461.3 313.1,461.8" fill="none" stroke="#000000" stroke-width="0.6" stroke-linejoin="round" />
<path d="M48.5,452.5 58.2,451.5 67.9,450.1 77.5,448.1 87.2,445.1 96.9,440.4 106.6,433.3 116.3,422.6 125.9,407.3 135.6,387 145.3,362.1 155,334.7 164.7,309.8 174.3,295.3 184,297.8 193.7,316.3 203.4,343 213.1,370.7 222.7,395.1 232.4,414.6 242.1,429.2 251.8,439.4 261.5,446.4 271.1,451.2 280.8,454.4 290.5,456.8 300.2,458.6 309.9,460.1 313.1,460.5" fill="none" stroke="#000000" stroke-width="0.6" stroke-linejoin="round" />
<path d="M48.5,453.1 58.2,452.1 67.9,450.7 77.5,448.6 87.2,445.6 96.9,440.9 106.6,433.8 116.3,423.1 125.9,407.9 135.6,387.7 145.3,362.8 155,335.4 164.7,310.5 174.3,295.9 184,298.3 193.7,316.6 203.4,343.2 213.1,370.8 222.7,395.2 232.4,414.6 242.1,429.1 251.8,439.3 261.5,446.2 271.1,450.9 280.8,454.1 290.5,456.4 300.2,458.2 309.9,459.6 313.1,460" fill="none" stroke="#000000" stroke-width="0.6" stroke-linejoin="round" />
<path d="M48.5,453.2 58.2,452.2 67.9,450.9 77.5,448.9 87.2,445.8 96.9,441 106.6,433.6 116.3,422.6 125.9,407.1 135.6,386.5 145.3,361.4 155,334 164.7,309.2 174.3,295 184,297.6 193.7,316 203.4,342.9 213.1,370.9 222.7,395.7 232.4,415.8 242.1,430.9 251.8,441.6 261.5,449 271.1,454.1 280.8,457.6 290.5,460.2 300.2,462.2 309.9,463.8 313.1,464.3" fill="none" stroke="#000000" stroke-width="0.6" stroke-linejoin="round" />
<path d="M48.5,449.9 58.2,449.1 67.9,447.9 77.5,446.2 87.2,443.4 96.9,439.1 106.6,432.4 116.3,422.3 125.9,407.5 135.6,387.7 145.3,363 155,335.6 164.7,310.6 174.3,296 184,298.6 193.7,317.4 203.4,344.6 213.1,372.4 222.7,396.9 232.4,416.3 242.1,430.7 251.8,440.7 261.5,447.6 271.1,452.2 280.8,455.5 290.5,457.9 300.2,459.8 309.9,461.4 313.1,461.9" fill="none" stroke="#000000" stroke-width="0.6" stroke-linejoin="round" />
<path d="M48.5,460.6 58.2,459.4 67.9,457.7 77.5,455.3 87.2,451.9 96.9,446.8 106.6,439 116.3,427.6 125.9,411.4 135.6,390 145.3,363.8 155,335.2 164.7,309.6 174.3,295.1 184,298.4 193.7,317.9 203.4,345.4 213.1,373.7 222.7,398.4 232.4,418.1 242.1,432.6 251.8,442.6 261.5,449.4 271.1,453.9 280.8,457 290.5,459.1 300.2,460.7 309.9,462 313.1,462.3" fill="none" stroke="#0000ff" stroke-width="0.6" stroke-linejoin="round" />
<path d="M48.5,457.4 58.2,456.2 67.9,454.5 77.5,452 87.2,448.5 96.9,443.1 106.6,435 116.3,423.3 125.9,407 135.6,385.7 145.3,360.2 155,332.8 164.7,308.6 174.3,295.4 184,298.8 193.7,317.4 203.4,343.9 213.1,371.4 222.7,395.7 232.4,415.4 242.1,430.3 251.8,440.8 261.5,448 271.1,453 280.8,456.3 290.5,458.7 300.2,460.6 309.9,462 313.1,462.4" fill="none" stroke="#0000ff" stroke-width="0.6" stroke-linejoin="round" />
<path d="M48.5,456.4 58.2,455.3 67.9,453.8 77.5,451.6 87.2,448.3 96.9,443.3 106.6,435.8 116.3,424.8 125.9,409.4 135.6,389.1 145.3,364.5 155,337.8 164.7,313.8 174.3,300 184,302.4 193.7,320 203.4,345.7 213.1,372.6 222.7,396.7 232.4,416.2 242.1,430.8 251.8,441.3 261.5,448.5 271.1,453.4 280.8,456.7 290.5,459.1 300.2,461 309.9,462.4 313.1,462.8" fill="none" stroke="#0000ff" stroke-width="0.6" stroke-linejoin="round" />
<path d="M48.5,456.8 58.2,455.7 67.9,454.2 77.5,452 87.2,448.8 96.9,443.9 106.6,436.5 116.3,425.4 125.9,409.7 135.6,388.8 145.3,363.3 155,335.3 164.7,310 174.3,295.5 184,298.3 193.7,317.2 203.4,344.4 213.1,372.5 222.7,397.2 232.4,417 242.1,431.7 251.8,442 261.5,449 271.1,453.7 280.8,456.9 290.5,459.3 300.2,461.1 309.9,462.5 313.1,462.9" fill="none" stroke="#0000ff" stroke-width="0.6" stroke-linejoin="round" />
<path d="M48.5,452.5 58.2,451.7 67.9,450.4 77.5,448.4 87.2,445.5 96.9,440.8 106.6,433.6 116.3,422.7 125.9,407.3 135.6,386.7 145.3,361.6 155,334 164.7,309.2 174.3,295.1 184,298.1 193.7,317 203.4,344.2 213.1,372.3 222.7,397.2 232.4,417.2 242.1,432.1 251.8,442.7 261.5,450 271.1,455 280.8,458.5 290.5,461.1 300.2,463.1 309.9,464.8 313.1,465.3" fill="none" stroke="#0000ff" stroke-width="0.6" stroke-linejoin="round" />
<path d="M48.5,451.9 58.2,451.1 67.9,449.9 77.5,448.1 87.2,445.3 96.9,440.8 106.6,433.9 116.3,423.4 125.9,408.3 135.6,388.1 145.3,363 155,335.3 164.7,309.9 174.3,295.1 184,297.5 193.7,316.2 203.4,343.6 213.1,372 222.7,397.1 232.4,417.2 242.1,432.1 251.8,442.7 261.5,450 271.1,454.9 280.8,458.4 290.5,461 300.2,463 309.9,464.7 313.1,465.2" fill="none" stroke="#0000ff" stroke-width="0.6" stroke-linejoin="round" />
<path d="M48.5,442.9 58.2,442.1 67.9,440.9 77.5,439.1 87.2,436.3 96.9,431.9 106.6,425 116.3,414.8 125.9,400.3 135.6,381.2 145.3,357.9 155,332.5 164.7,309.7 174.3,296.6 184,299.1 193.7,316.3 203.4,341.3 213.1,367.5 222.7,390.8 232.4,409.7 242.1,424 251.8,434.3 261.5,441.4 271.1,446.3 280.8,449.8 290.5,452.4 300.2,454.4 309.9,456 313.1,456.5" fill="none" stroke="#0000ff" stroke-width="0.6" stroke-linejoin="round" />
<path d="M48.5,459 58.2,457.6 67.9,455.8 77.5,453.4 87.2,449.9 96.9,444.8 106.6,437.1 116.3,425.9 125.9,410 135.6,389 145.3,363.4 155,335.3 164.7,310.2 174.3,296 184,299.1 193.7,318 203.4,344.8 213.1,372.1 222.7,396 232.4,414.9 242.1,428.8 251.8,438.4 261.5,444.8 271.1,449 280.8,451.8 290.5,453.7 300.2,455.1 309.9,456.2 313.1,456.5" fill="none" stroke="#0000ff" stroke-width="0.6" stroke-linejoin="round" />
<path d="M48.5,451 58.2,450.1 67.9,448.9 77.5,447 87.2,444.1 96.9,439.6 106.6,432.7 116.3,422.1 125.9,407 135.6,386.8 145.3,361.8 155,334.3 164.7,309.5 174.3,295.4 184,298.6 193.7,317.8 203.4,345 213.1,372.8 222.7,397.2 232.4,416.6 242.1,430.9 251.8,440.9 261.5,447.8 271.1,452.5 280.8,455.7 290.5,458.1 300.2,460 309.9,461.5 313.1,462" fill="none" stroke="#0000ff" stroke-width="0.6" stroke-linejoin="round" />
<path d="M48.5,455.4 58.2,454.2 67.9,452.6 77.5,450.4 87.2,447.2 96.9,442.3 106.6,434.9 116.3,423.9 125.9,408.4 135.6,387.7 145.3,362.4 155,334.6 164.7,309.5 174.3,295.1 184,297.9 193.7,316.5 203.4,343.4 213.1,371 222.7,395.3 232.4,414.6 242.1,428.9 251.8,438.9 261.5,445.6 271.1,450.1 280.8,453.2 290.5,455.4 300.2,457 309.9,458.3 313.1,458.7" fill="none" stroke="#0000ff" stroke-width="0.6" stroke-linejoin="round" />
<path d="M48.5,451.9 58.2,450.8 67.9,449.4 77.5,447.3 87.2,444.2 96.9,439.6 106.6,432.4 116.3,421.8 125.9,406.6 135.6,386.5 145.3,361.8 155,334.5 164.7,309.8 174.3,295.2 184,297.5 193.7,315.5 203.4,341.8 213.1,369.2 222.7,393.4 232.4,412.8 242.1,427.3 251.8,437.5 261.5,444.4 271.1,449.1 280.8,452.3 290.5,454.6 300.2,456.3 309.9,457.7 313.1,458.1" fill="none" stroke="#0000ff" stroke-width="0.6" stroke-linejoin="round" />
<path d="M48.5,450.6 58.2,449.8 67.9,448.6 77.5,446.8 87.2,444.1 96.9,440 106.6,433.4 116.3,423.4 125.9,409 135.6,389.4 145.3,365 155,338.1 164.7,313.7 174.3,300 184,303.6 193.7,322.8 203.4,349.6 213.1,376.7 222.7,400.2 232.4,418.6 242.1,432 251.8,441.3 261.5,447.6 271.1,451.9 280.8,454.8 290.5,457 300.2,458.8 309.9,460.2 313.1,460.6" fill="none" stroke="#0000ff" stroke-width="0.6" stroke-linejoin="round" />
<path d="M48.5,452 58.2,450.9 67.9,449.4 77.5,447.2 87.2,444 96.9,439.2 106.6,431.9 116.3,421.1 125.9,405.9 135.6,385.8 145.3,361.3 155,334.4 164.7,310.1 174.3,296 184,298.3 193.7,315.9 203.4,341.8 213.1,368.7 222.7,392.5 232.4,411.7 242.1,426 251.8,436.1 261.5,442.9 271.1,447.6 280.8,450.7 290.5,453 300.2,454.7 309.9,456 313.1,456.4" fill="none" stroke="#0000ff" stroke-width="0.6" stroke-linejoin="round" />
<path d="M48.5,448.4 58.2,447.5 67.9,446.1 77.5,444.2 87.2,441.1 96.9,436.4 106.6,429.2 116.3,418.5 125.9,403.4 135.6,383.5 145.3,359.2 155,332.7 164.7,309 174.3,295.5 184,298.3 193.7,316.2 203.4,342.1 213.1,369.1 222.7,393 232.4,412.3 242.1,426.8 251.8,437.1 261.5,444.2 271.1,449.1 280.8,452.5 290.5,455 300.2,456.9 309.9,458.5 313.1,459" fill="none" stroke="#0000ff" stroke-width="0.6" stroke-linejoin="round" />
<path d="M48.5,449.5 58.2,448.6 67.9,447.2 77.5,445.2 87.2,442.2 96.9,437.6 106.6,430.6 116.3,420 125.9,405 135.6,384.9 145.3,360.2 155,333.2 164.7,309 174.3,295.3 184,298.6 193.7,317.4 203.4,343.9 213.1,371 222.7,394.8 232.4,413.7 242.1,427.7 251.8,437.5 261.5,444.1 271.1,448.6 280.8,451.7 290.5,454 300.2,455.7 309.9,457.2 313.1,457.6" fill="none" stroke="#0000ff" stroke-width="0.6" stroke-linejoin="round" />
<path d="M48.5,448.6 58.2,447.6 67.9,446.3 77.5,444.3 87.2,441.3 96.9,436.7 106.6,429.6 116.3,419.1 125.9,404.2 135.6,384.4 145.3,360.2 155,333.8 164.7,310 174.3,296.5 184,299.3 193.7,317.2 203.4,343.1 213.1,369.7 222.7,393.3 232.4,412.1 242.1,426.2 251.8,436.1 261.5,442.8 271.1,447.4 280.8,450.6 290.5,452.9 300.2,454.7 309.9,456.1 313.1,456.5" fill="none" stroke="#0000ff" stroke-width="0.6" stroke-linejoin="round" />
<path d="M48.5,451.4 58.2,450.5 67.9,449.2 77.5,447.2 87.2,444.3 96.9,439.7 106.6,432.6 116.3,421.9 125.9,406.8 135.6,386.7 145.3,361.9 155,334.6 164.7,309.9 174.3,295.4 184,297.7 193.7,315.8 203.4,342.4 213.1,370.1 222.7,394.7 232.4,414.4 242.1,429.2 251.8,439.7 261.5,446.9 271.1,451.7 280.8,455.2 290.5,457.6 300.2,459.6 309.9,461.1 313.1,461.6" fill="none" stroke="#0000ff" stroke-width="0.6" stroke-linejoin="round" />
<path d="M48.5,489.6 58,489.2 67.8,488.8 77.6,488.2 87.5,487.4 97.3,486.4 107.2,484.8 117,482.5 126.9,478.7 136.7,472.8 146.5,463.9 156.4,451.4 166.2,435.2 176.1,416.3 185.9,397.9 195.7,385.5 205.6,384.6 215.4,395.7 225.3,413.7 235.1,432.8 245,449.6 254.8,462.8 264.6,472.3 274.5,478.7 284.3,482.8 294.2,485.4 304,487.1 313.1,488.2" fill="none" stroke="#008080" stroke-width="1.4" stroke-linejoin="round" />
<text x="164.8" y="287.9" font-size="11" fill="#000" text-anchor="start" font-weight="bold" textLength="19.4" lengthAdjust="spacingAndGlyphs" >879</text>
<text x="189.2" y="377.9" font-size="11" fill="#008080" text-anchor="start" font-weight="bold" textLength="19.1" lengthAdjust="spacingAndGlyphs" >883</text>
<text x="218.4" y="327" font-size="11.5" fill="#0000ff" text-anchor="start" font-weight="bold" textLength="100" lengthAdjust="spacingAndGlyphs" >17 wines, Fr, 2013</text>
<text x="219.2" y="348.3" font-size="11.5" fill="#000" text-anchor="start" font-weight="bold" textLength="99.6" lengthAdjust="spacingAndGlyphs" >14 wines, Fr, 2012</text>
<text x="152.4" y="486.6" font-size="11.5" fill="#008080" text-anchor="start" font-weight="bold" textLength="42.6" lengthAdjust="spacingAndGlyphs" >Ethanol</text>
<text x="41.5" y="298.5" font-size="11.2" fill="#000" text-anchor="end" font-weight="bold" >1.0</text>
<text x="41.5" y="339.1" font-size="11.2" fill="#000" text-anchor="end" font-weight="bold" >0.8</text>
<text x="41.5" y="379.7" font-size="11.2" fill="#000" text-anchor="end" font-weight="bold" >0.6</text>
<text x="41.5" y="420.2" font-size="11.2" fill="#000" text-anchor="end" font-weight="bold" >0.4</text>
<text x="41.5" y="460.8" font-size="11.2" fill="#000" text-anchor="end" font-weight="bold" >0.2</text>
<text x="81.3" y="510" font-size="11.2" fill="#000" text-anchor="middle" font-weight="bold" >860</text>
<text x="188.9" y="510" font-size="11.2" fill="#000" text-anchor="middle" font-weight="bold" >880</text>
<text x="296.4" y="510" font-size="11.2" fill="#000" text-anchor="middle" font-weight="bold" >900</text>
<text x="130.6" y="532.4" font-size="11.6" fill="#000" text-anchor="start" font-weight="bold" textLength="94.0" lengthAdjust="spacingAndGlyphs" >Wavenumber/cm</text>
<text x="225" y="527" font-size="7.5" fill="#000" text-anchor="start" font-weight="bold" >-1</text>
<text transform="translate(8.7,363.6) rotate(-90)" font-size="11.7" font-weight="bold" text-anchor="middle" textLength="160" lengthAdjust="spacingAndGlyphs">Raman Intensity/Arbitr. Units</text>
<line x1="413.4" y1="26.4" x2="413.4" y2="227.2" stroke="#2e2e2e" stroke-width="1.25" />
<line x1="412.8" y1="226.5" x2="665.3" y2="226.5" stroke="#2e2e2e" stroke-width="1.25" />
<line x1="408.9" y1="226.7" x2="413.4" y2="226.7" stroke="#2e2e2e" stroke-width="1.1" />
<line x1="410.9" y1="193.3" x2="413.4" y2="193.3" stroke="#2e2e2e" stroke-width="1.1" />
<line x1="408.9" y1="159.9" x2="413.4" y2="159.9" stroke="#2e2e2e" stroke-width="1.1" />
<line x1="410.9" y1="126.5" x2="413.4" y2="126.5" stroke="#2e2e2e" stroke-width="1.1" />
<line x1="408.9" y1="93.2" x2="413.4" y2="93.2" stroke="#2e2e2e" stroke-width="1.1" />
<line x1="410.9" y1="59.8" x2="413.4" y2="59.8" stroke="#2e2e2e" stroke-width="1.1" />
<line x1="408.9" y1="26.4" x2="413.4" y2="26.4" stroke="#2e2e2e" stroke-width="1.1" />
<line x1="413.4" y1="226.5" x2="413.4" y2="230.5" stroke="#2e2e2e" stroke-width="1.1" />
<line x1="438.6" y1="226.5" x2="438.6" y2="229" stroke="#2e2e2e" stroke-width="1.1" />
<line x1="463.8" y1="226.5" x2="463.8" y2="230.5" stroke="#2e2e2e" stroke-width="1.1" />
<line x1="489" y1="226.5" x2="489" y2="229" stroke="#2e2e2e" stroke-width="1.1" />
<line x1="514.2" y1="226.5" x2="514.2" y2="230.5" stroke="#2e2e2e" stroke-width="1.1" />
<line x1="539.4" y1="226.5" x2="539.4" y2="229" stroke="#2e2e2e" stroke-width="1.1" />
<line x1="564.5" y1="226.5" x2="564.5" y2="230.5" stroke="#2e2e2e" stroke-width="1.1" />
<line x1="589.7" y1="226.5" x2="589.7" y2="229" stroke="#2e2e2e" stroke-width="1.1" />
<line x1="614.9" y1="226.5" x2="614.9" y2="230.5" stroke="#2e2e2e" stroke-width="1.1" />
<line x1="640.1" y1="226.5" x2="640.1" y2="229" stroke="#2e2e2e" stroke-width="1.1" />
<line x1="665.3" y1="226.5" x2="665.3" y2="230.5" stroke="#2e2e2e" stroke-width="1.1" />
<line x1="415.8" y1="284.5" x2="415.8" y2="488.2" stroke="#2e2e2e" stroke-width="1.25" />
<line x1="415.1" y1="487.5" x2="672.1" y2="487.5" stroke="#2e2e2e" stroke-width="1.25" />
<line x1="411.2" y1="487.2" x2="415.8" y2="487.2" stroke="#2e2e2e" stroke-width="1.1" />
<line x1="413.2" y1="453.4" x2="415.8" y2="453.4" stroke="#2e2e2e" stroke-width="1.1" />
<line x1="411.2" y1="419.6" x2="415.8" y2="419.6" stroke="#2e2e2e" stroke-width="1.1" />
<line x1="413.2" y1="385.8" x2="415.8" y2="385.8" stroke="#2e2e2e" stroke-width="1.1" />
<line x1="411.2" y1="352.1" x2="415.8" y2="352.1" stroke="#2e2e2e" stroke-width="1.1" />
<line x1="413.2" y1="318.3" x2="415.8" y2="318.3" stroke="#2e2e2e" stroke-width="1.1" />
<line x1="411.2" y1="284.5" x2="415.8" y2="284.5" stroke="#2e2e2e" stroke-width="1.1" />
<line x1="415.8" y1="487.5" x2="415.8" y2="491.5" stroke="#2e2e2e" stroke-width="1.1" />
<line x1="441.4" y1="487.5" x2="441.4" y2="490" stroke="#2e2e2e" stroke-width="1.1" />
<line x1="467.1" y1="487.5" x2="467.1" y2="491.5" stroke="#2e2e2e" stroke-width="1.1" />
<line x1="492.7" y1="487.5" x2="492.7" y2="490" stroke="#2e2e2e" stroke-width="1.1" />
<line x1="518.3" y1="487.5" x2="518.3" y2="491.5" stroke="#2e2e2e" stroke-width="1.1" />
<line x1="544" y1="487.5" x2="544" y2="490" stroke="#2e2e2e" stroke-width="1.1" />
<line x1="569.6" y1="487.5" x2="569.6" y2="491.5" stroke="#2e2e2e" stroke-width="1.1" />
<line x1="595.2" y1="487.5" x2="595.2" y2="490" stroke="#2e2e2e" stroke-width="1.1" />
<line x1="620.8" y1="487.5" x2="620.8" y2="491.5" stroke="#2e2e2e" stroke-width="1.1" />
<line x1="646.5" y1="487.5" x2="646.5" y2="490" stroke="#2e2e2e" stroke-width="1.1" />
<line x1="672.1" y1="487.5" x2="672.1" y2="491.5" stroke="#2e2e2e" stroke-width="1.1" />
<path d="M414.4,172.1 419.6,169.7 424.9,175.3 430.1,190.2 435.4,197 440.6,194.3 445.8,189 451.1,185.8 456.3,168.4 461.6,143.7 466.8,138 472,133.1 477.3,128.7 482.5,147.5 487.8,174 493,188.7 498.2,189.3 503.5,180.6 508.7,173.3 514,171.8 519.2,184.9 524.4,196.9 529.7,193.9 534.9,182.7 540.2,173.9 545.4,173.6 550.6,179.7 555.9,172.9 561.1,164.4 566.4,169.4 571.6,167.5 576.8,163 582.1,178.6 587.3,203.3 592.6,200.7 597.8,171.7 603,159.8 608.3,166 613.5,168.9 618.7,163.9 624,171.1 629.2,189 634.5,199 639.7,198.4 644.9,201.7 650.2,212.1 655.4,217.7 660.7,211.8 665.3,204.2" fill="none" stroke="#8b0000" stroke-width="0.6" stroke-linejoin="round" stroke-opacity="0.75"/>
<path d="M414.4,208.4 419.6,203 424.9,200.1 430.1,208 435.4,206 440.6,193.1 445.8,180.5 451.1,171.7 456.3,154.7 461.6,133.9 466.8,143.3 472,168.6 477.3,175.5 482.5,169.8 487.8,175 493,188.8 498.2,198.4 503.5,208.1 508.7,201 514,176.5 519.2,166.4 524.4,178.5 529.7,185.8 534.9,187.3 540.2,194.4 545.4,191.8 550.6,180.9 555.9,175.6 561.1,181.5 566.4,189.2 571.6,194.4 576.8,198.4 582.1,198.4 587.3,206.1 592.6,212.3 597.8,205.2 603,192.2 608.3,184.5 613.5,181.9 618.7,176.1 624,177.4 629.2,191.2 634.5,197.1 639.7,191.9 644.9,204 650.2,220.2 655.4,220 660.7,215.7 665.3,214.2" fill="none" stroke="#ff00ff" stroke-width="0.6" stroke-linejoin="round" stroke-opacity="0.75"/>
<path d="M414.4,165 419.6,169.2 424.9,179.2 430.1,176.9 435.4,171 440.6,179 445.8,183.7 451.1,178.2 456.3,154.7 461.6,134.5 466.8,142 472,148.2 477.3,146.1 482.5,162 487.8,179.1 493,187.9 498.2,187.2 503.5,167.6 508.7,153.5 514,161.1 519.2,175.5 524.4,186.7 529.7,205.5 534.9,220.3 540.2,217.4 545.4,210.3 550.6,212 555.9,201.9 561.1,192.5 566.4,189.1 571.6,183.8 576.8,180.3 582.1,188.2 587.3,200.3 592.6,201 597.8,196.5 603,194.3 608.3,186.9 613.5,167.7 618.7,149 624,138.1 629.2,137.9 634.5,156.2 639.7,185.3 644.9,200.8 650.2,196.7 655.4,186.6 660.7,180.1 665.3,177.1" fill="none" stroke="#ff0000" stroke-width="0.6" stroke-linejoin="round" stroke-opacity="0.75"/>
<path d="M414.4,217.2 419.6,214.5 424.9,209.6 430.1,199.8 435.4,174.2 440.6,160.3 445.8,165.6 451.1,153.4 456.3,129 461.6,122.7 466.8,128.1 472,129.5 477.3,130.6 482.5,151.7 487.8,192.3 493,220.1 498.2,218.9 503.5,191.5 508.7,166.9 514,157.5 519.2,168.7 524.4,182.3 529.7,175.2 534.9,170.5 540.2,180.3 545.4,178.9 550.6,177.5 555.9,194.4 561.1,194.3 566.4,177.6 571.6,181.7 576.8,200.2 582.1,199.3 587.3,174.2 592.6,153.1 597.8,149.3 603,149.7 608.3,151.3 613.5,163 618.7,168.5 624,167.6 629.2,179.8 634.5,183.5 639.7,171.8 644.9,167.5 650.2,182.2 655.4,199.4 660.7,206.1 665.3,204.8" fill="none" stroke="#ff0000" stroke-width="0.6" stroke-linejoin="round" stroke-opacity="0.75"/>
<path d="M414.4,202.6 419.6,194.4 424.9,175.9 430.1,162.3 435.4,162.7 440.6,164.9 445.8,164.5 451.1,159.4 456.3,149.3 461.6,138 466.8,137.2 472,147.9 477.3,157.5 482.5,168 487.8,176.3 493,184.3 498.2,188 503.5,180.5 508.7,168.5 514,164.3 519.2,169.2 524.4,178.7 529.7,179 534.9,182 540.2,201.2 545.4,204.8 550.6,183.8 555.9,167.8 561.1,168.4 566.4,163.1 571.6,160.4 576.8,171.3 582.1,173.2 587.3,171.4 592.6,186 597.8,194 603,185.3 608.3,175.7 613.5,170 618.7,182.2 624,198.9 629.2,195.9 634.5,189.9 639.7,188.4 644.9,193.7 650.2,212.2 655.4,216.8 660.7,200.6 665.3,189.2" fill="none" stroke="#ff0000" stroke-width="0.6" stroke-linejoin="round" stroke-opacity="0.75"/>
<path d="M414.4,219 419.6,218.2 424.9,212 430.1,206.4 435.4,211.3 440.6,214 445.8,209.4 451.1,204.2 456.3,199.8 461.6,189 466.8,173.9 472,156.4 477.3,147.6 482.5,169.4 487.8,197.6 493,214.2 498.2,215.2 503.5,206.6 508.7,192.3 514,184.7 519.2,197.8 524.4,212 529.7,213 534.9,208 540.2,190.1 545.4,167.4 550.6,160 555.9,165.8 561.1,180.6 566.4,202.8 571.6,217.8 576.8,216.9 582.1,201.7 587.3,182.8 592.6,174.8 597.8,181.4 603,180.7 608.3,164.5 613.5,163.6 618.7,179.1 624,185.2 629.2,184.3 634.5,187.6 639.7,189.8 644.9,188.8 650.2,193 655.4,208.5 660.7,222.6 665.3,225.4" fill="none" stroke="#00ff00" stroke-width="0.6" stroke-linejoin="round" stroke-opacity="0.75"/>
<path d="M414.4,181.3 419.6,176.1 424.9,166.1 430.1,168.7 435.4,183.9 440.6,192.1 445.8,186.2 451.1,179.8 456.3,169.8 461.6,148.4 466.8,131.9 472,131.5 477.3,141.7 482.5,145.4 487.8,136.9 493,126.9 498.2,128 503.5,149.5 508.7,163.9 514,148.8 519.2,137.2 524.4,153.6 529.7,172.1 534.9,169 540.2,158.4 545.4,165.7 550.6,177.5 555.9,186.9 561.1,197.9 566.4,201.8 571.6,197.9 576.8,183.2 582.1,166.1 587.3,161.7 592.6,166.7 597.8,172.9 603,187.3 608.3,194.7 613.5,184.6 618.7,181.7 624,196.4 629.2,207.1 634.5,191.4 639.7,171.5 644.9,161.4 650.2,156.8 655.4,150.3 660.7,136.5 665.3,130.1" fill="none" stroke="#00ff00" stroke-width="0.6" stroke-linejoin="round" stroke-opacity="0.75"/>
<path d="M414.4,159 419.6,162.3 424.9,170.2 430.1,170.3 435.4,165.5 440.6,161.1 445.8,157.8 451.1,162.7 456.3,163.3 461.6,157.5 466.8,150.1 472,153 477.3,165.9 482.5,167.3 487.8,161.9 493,162.4 498.2,171.3 503.5,174.4 508.7,161.8 514,149.8 519.2,153.2 524.4,166.1 529.7,183.3 534.9,199.6 540.2,200.7 545.4,195.2 550.6,194.7 555.9,191.6 561.1,178.4 566.4,160.2 571.6,157 576.8,175.7 582.1,183.2 587.3,173.9 592.6,174 597.8,174.3 603,167.4 608.3,174.2 613.5,188.3 618.7,196.9 624,197 629.2,188.8 634.5,171 639.7,151.9 644.9,159.2 650.2,179.7 655.4,185.4 660.7,173.6 665.3,164.8" fill="none" stroke="#8b0000" stroke-width="0.6" stroke-linejoin="round" stroke-opacity="0.75"/>
<path d="M414.4,149.4 419.6,155.9 424.9,167.6 430.1,177.2 435.4,181.4 440.6,171.7 445.8,156 451.1,146.2 456.3,138.8 461.6,135.2 466.8,135.8 472,136.8 477.3,143.5 482.5,157.3 487.8,172.1 493,188.2 498.2,196.2 503.5,189.2 508.7,176.7 514,170.9 519.2,173.2 524.4,183.2 529.7,188.8 534.9,186.4 540.2,179.7 545.4,180.4 550.6,185.4 555.9,193.2 561.1,197.3 566.4,201.6 571.6,209.8 576.8,199.1 582.1,179.4 587.3,176.9 592.6,184.4 597.8,200.9 603,209.4 608.3,194.2 613.5,176.9 618.7,175.6 624,177.2 629.2,176.3 634.5,177.5 639.7,175 644.9,178.3 650.2,180.1 655.4,167.1 660.7,159.7 665.3,161.6" fill="none" stroke="#ff00ff" stroke-width="0.6" stroke-linejoin="round" stroke-opacity="0.75"/>
<path d="M414.4,187.3 419.6,185.3 424.9,187.2 430.1,181.7 435.4,160 440.6,135.6 445.8,122 451.1,126.1 456.3,132.8 461.6,134.6 466.8,129.1 472,119.4 477.3,120.3 482.5,143.3 487.8,166.8 493,173.3 498.2,180 503.5,193.8 508.7,193.9 514,172.3 519.2,157.5 524.4,157.8 529.7,151.3 534.9,137.6 540.2,144.5 545.4,181.1 550.6,206.6 555.9,192.7 561.1,175.4 566.4,176.9 571.6,189.8 576.8,194.2 582.1,186.7 587.3,182 592.6,178.8 597.8,178.2 603,187.9 608.3,195.5 613.5,190.8 618.7,188.1 624,187.9 629.2,192.6 634.5,204.9 639.7,213.9 644.9,216 650.2,203.9 655.4,189 660.7,186.4 665.3,188.1" fill="none" stroke="#000000" stroke-width="0.6" stroke-linejoin="round" stroke-opacity="0.75"/>
<path d="M414.4,165.9 419.6,168.4 424.9,177.8 430.1,186.7 435.4,193.8 440.6,192.8 445.8,174.7 451.1,150.9 456.3,143.6 461.6,156.8 466.8,161.3 472,159.8 477.3,163.2 482.5,166 487.8,166.9 493,176.2 498.2,188.3 503.5,188.5 508.7,196.9 514,217.4 519.2,223.8 524.4,222.5 529.7,217.5 534.9,216.7 540.2,215.6 545.4,206.1 550.6,199.7 555.9,204.9 561.1,211.4 566.4,208.9 571.6,203.2 576.8,192.8 582.1,170.4 587.3,154.2 592.6,160.4 597.8,181.1 603,194.9 608.3,190.2 613.5,175.9 618.7,168.6 624,174.6 629.2,191.9 634.5,190.6 639.7,179 644.9,171.8 650.2,159.6 655.4,152.4 660.7,160.4 665.3,166.1" fill="none" stroke="#000000" stroke-width="0.6" stroke-linejoin="round" stroke-opacity="0.75"/>
<path d="M414.4,207.5 419.6,203.1 424.9,186.8 430.1,168.3 435.4,159.2 440.6,165.5 445.8,184.2 451.1,191.1 456.3,178.8 461.6,157.1 466.8,146.8 472,154 477.3,158.7 482.5,162.4 487.8,169.8 493,170.5 498.2,162.9 503.5,152.2 508.7,159.2 514,179.5 519.2,182.2 524.4,174.4 529.7,177.4 534.9,182.3 540.2,191.6 545.4,189.7 550.6,174.6 555.9,180.1 561.1,198.7 566.4,207 571.6,210.2 576.8,206.8 582.1,193.2 587.3,188.1 592.6,197.2 597.8,204 603,210.2 608.3,215.9 613.5,219.5 618.7,218.9 624,202.2 629.2,178.3 634.5,173.5 639.7,184 644.9,185.7 650.2,166.4 655.4,149.3 660.7,160.8 665.3,173.3" fill="none" stroke="#ff0000" stroke-width="0.6" stroke-linejoin="round" stroke-opacity="0.75"/>
<path d="M414.4,183.5 419.6,172.2 424.9,164 430.1,159.9 435.4,161.1 440.6,182.5 445.8,183.6 451.1,157.9 456.3,137.4 461.6,121.1 466.8,114.7 472,115.6 477.3,135.4 482.5,172.5 487.8,195 493,201.7 498.2,205.9 503.5,202.8 508.7,195 514,184.1 519.2,181.2 524.4,194.6 529.7,206.6 534.9,204.5 540.2,198.7 545.4,190.5 550.6,176.5 555.9,171 561.1,196.3 566.4,218.7 571.6,211.6 576.8,174.2 582.1,144 587.3,153 592.6,182.5 597.8,204 603,216.7 608.3,210.6 613.5,190.4 618.7,187.5 624,199.5 629.2,199.6 634.5,188 639.7,189.1 644.9,206.6 650.2,212.1 655.4,204.1 660.7,212.6 665.3,219.3" fill="none" stroke="#000000" stroke-width="0.6" stroke-linejoin="round" stroke-opacity="0.75"/>
<path d="M414.4,204.5 419.6,204.3 424.9,203.3 430.1,200.4 435.4,190 440.6,189.1 445.8,192.3 451.1,172.7 456.3,152.5 461.6,161.4 466.8,170.3 472,158.6 477.3,144.9 482.5,146.4 487.8,163.3 493,178.4 498.2,179.7 503.5,176.5 508.7,181.3 514,195.4 519.2,209.9 524.4,205.1 529.7,186.2 534.9,171.7 540.2,169.3 545.4,168.9 550.6,162.6 555.9,151.4 561.1,149.3 566.4,167.7 571.6,169.8 576.8,156.1 582.1,157 587.3,165.4 592.6,173.2 597.8,182.6 603,181.9 608.3,167.4 613.5,152.8 618.7,148.8 624,152.8 629.2,170.4 634.5,193 639.7,206.2 644.9,207.9 650.2,204.1 655.4,184.8 660.7,167.2 665.3,163.4" fill="none" stroke="#ff00ff" stroke-width="0.6" stroke-linejoin="round" stroke-opacity="0.75"/>
<path d="M414.4,188.6 419.6,186.9 424.9,177.3 430.1,161.2 435.4,155 440.6,155.9 445.8,159.6 451.1,168.9 456.3,185.4 461.6,211.2 466.8,218.2 472,200.6 477.3,186.9 482.5,195.1 487.8,206.8 493,214 498.2,207.3 503.5,199.8 508.7,204.4 514,206.2 519.2,190.5 524.4,173 529.7,160.7 534.9,158.9 540.2,173.2 545.4,181.1 550.6,188.4 555.9,205.4 561.1,205.2 566.4,193 571.6,196.2 576.8,202.8 582.1,204.7 587.3,209.4 592.6,211.9 597.8,217.7 603,222.7 608.3,223.3 613.5,212.2 618.7,196.2 624,197.7 629.2,196.9 634.5,181.1 639.7,166.4 644.9,173.4 650.2,189.5 655.4,193.8 660.7,190.8 665.3,188.5" fill="none" stroke="#000000" stroke-width="0.6" stroke-linejoin="round" stroke-opacity="0.75"/>
<path d="M414.4,165.2 419.6,175.7 424.9,193.1 430.1,183.7 435.4,153 440.6,137.7 445.8,143.1 451.1,140.1 456.3,135.8 461.6,130.6 466.8,129 472,149.2 477.3,175.5 482.5,185.9 487.8,188.4 493,195.1 498.2,206 503.5,209 508.7,202.6 514,195.2 519.2,188.7 524.4,180.7 529.7,178.2 534.9,189.5 540.2,210.7 545.4,220.2 550.6,219.4 555.9,211.7 561.1,195.8 566.4,186.6 571.6,197.1 576.8,215.1 582.1,217.9 587.3,212.3 592.6,212.9 597.8,219.7 603,220.6 608.3,210.6 613.5,196.3 618.7,201.7 624,214.5 629.2,214.7 634.5,211.3 639.7,211.2 644.9,207 650.2,198.3 655.4,189.3 660.7,183.5 665.3,179.4" fill="none" stroke="#8b0000" stroke-width="0.6" stroke-linejoin="round" stroke-opacity="0.75"/>
<path d="M414.4,179.3 419.6,175.2 424.9,165.6 430.1,158.1 435.4,167.3 440.6,185.3 445.8,188.9 451.1,166.5 456.3,145.2 461.6,143.6 466.8,153.7 472,149.7 477.3,140.4 482.5,146 487.8,149 493,149.2 498.2,156.7 503.5,160.8 508.7,163.2 514,171.7 519.2,179.3 524.4,189.8 529.7,194.4 534.9,180.4 540.2,169.3 545.4,179.4 550.6,192.2 555.9,193.6 561.1,189.1 566.4,186 571.6,183.1 576.8,171.2 582.1,161.2 587.3,162.3 592.6,170.4 597.8,177.4 603,183.3 608.3,184.2 613.5,188.8 618.7,187 624,164.7 629.2,142.2 634.5,140.6 639.7,156.2 644.9,166.3 650.2,170.6 655.4,184 660.7,196.8 665.3,202.2" fill="none" stroke="#ff0000" stroke-width="0.6" stroke-linejoin="round" stroke-opacity="0.75"/>
<path d="M414.4,175.8 419.6,172.8 424.9,175.8 430.1,194.3 435.4,206.8 440.6,190.1 445.8,169.4 451.1,162.2 456.3,159 461.6,152.9 466.8,137.8 472,131.1 477.3,142.3 482.5,159.7 487.8,176.5 493,192.6 498.2,195.2 503.5,190.5 508.7,192.4 514,191 519.2,182 524.4,180 529.7,193.1 534.9,206.8 540.2,215.9 545.4,217.6 550.6,217.5 555.9,218.2 561.1,204.7 566.4,186.2 571.6,199.1 576.8,217.7 582.1,205.4 587.3,177 592.6,165.9 597.8,171.8 603,199.4 608.3,217.5 613.5,206.9 618.7,193.9 624,197.1 629.2,210.2 634.5,216.9 639.7,213.6 644.9,199.8 650.2,177.7 655.4,168 660.7,171.9 665.3,173.7" fill="none" stroke="#ff00ff" stroke-width="0.6" stroke-linejoin="round" stroke-opacity="0.75"/>
<path d="M414.4,169.5 419.6,159.7 424.9,151.4 430.1,156.6 435.4,165.9 440.6,163.8 445.8,144.7 451.1,128 456.3,127.9 461.6,147.9 466.8,172.5 472,173.1 477.3,152.9 482.5,148.1 487.8,165.8 493,178.6 498.2,179.9 503.5,180.6 508.7,184.7 514,190 519.2,194.3 524.4,196.6 529.7,191.2 534.9,185.2 540.2,190.1 545.4,197.8 550.6,203.4 555.9,212.5 561.1,216.8 566.4,209.5 571.6,193.8 576.8,188 582.1,197.1 587.3,200.9 592.6,194.6 597.8,197.3 603,199.5 608.3,184.3 613.5,177.1 618.7,186.7 624,194.7 629.2,197.6 634.5,197.6 639.7,197.6 644.9,202 650.2,204.4 655.4,210.4 660.7,219.1 665.3,221" fill="none" stroke="#ff0000" stroke-width="0.6" stroke-linejoin="round" stroke-opacity="0.75"/>
<path d="M414.4,211.9 419.6,212.1 424.9,212.4 430.1,207.4 435.4,189.5 440.6,176 445.8,175.8 451.1,173.8 456.3,158.4 461.6,151.9 466.8,155.7 472,164.2 477.3,180.4 482.5,200.5 487.8,202.9 493,178.2 498.2,165.8 503.5,173 508.7,171.5 514,171.7 519.2,182 524.4,190.2 529.7,195.7 534.9,204.9 540.2,211.7 545.4,215.2 550.6,215.1 555.9,205.1 561.1,191.1 566.4,191 571.6,201.7 576.8,207.7 582.1,213.6 587.3,214 592.6,203.8 597.8,200.7 603,209.3 608.3,219.7 613.5,216.1 618.7,192.2 624,181 629.2,179.6 634.5,173.2 639.7,166.2 644.9,175.9 650.2,193.2 655.4,205.1 660.7,201.2 665.3,193.2" fill="none" stroke="#ff0000" stroke-width="0.6" stroke-linejoin="round" stroke-opacity="0.75"/>
<path d="M414.4,169.1 419.6,177.3 424.9,189.8 430.1,183.8 435.4,172.4 440.6,169.4 445.8,165.3 451.1,149.6 456.3,140.9 461.6,153.4 466.8,162.4 472,160.6 477.3,147.5 482.5,129.9 487.8,134.2 493,156.1 498.2,172.5 503.5,180.6 508.7,178.8 514,168.9 519.2,160.5 524.4,174.2 529.7,203.3 534.9,215.8 540.2,196 545.4,176.1 550.6,190.7 555.9,208.7 561.1,204.9 566.4,190.8 571.6,179.7 576.8,171.1 582.1,161.1 587.3,160.7 592.6,158.9 597.8,154.7 603,159.9 608.3,166.2 613.5,174.1 618.7,185.7 624,186.9 629.2,183.5 634.5,187.6 639.7,182.6 644.9,167.3 650.2,163.6 655.4,173.1 660.7,175.4 665.3,170.1" fill="none" stroke="#8b0000" stroke-width="0.6" stroke-linejoin="round" stroke-opacity="0.75"/>
<path d="M414.4,162.3 419.6,166.5 424.9,172.7 430.1,172.8 435.4,182.2 440.6,175.8 445.8,143 451.1,124.7 456.3,130.8 461.6,141 466.8,155.1 472,167.9 477.3,174.8 482.5,179.3 487.8,184.9 493,188.1 498.2,190.2 503.5,191.2 508.7,195.2 514,203.4 519.2,208.8 524.4,204.1 529.7,188.6 534.9,182.4 540.2,191.7 545.4,201.2 550.6,204.8 555.9,204.8 561.1,211.3 566.4,220 571.6,218.8 576.8,199.8 582.1,186.2 587.3,184.2 592.6,175.8 597.8,167.5 603,161.6 608.3,159.4 613.5,175 618.7,197.3 624,213.1 629.2,212 634.5,196.5 639.7,187.1 644.9,189.4 650.2,190.6 655.4,188.2 660.7,193.7 665.3,201.2" fill="none" stroke="#8b0000" stroke-width="0.6" stroke-linejoin="round" stroke-opacity="0.75"/>
<path d="M414.4,187.8 419.6,182.4 424.9,180.1 430.1,177.1 435.4,175.7 440.6,191.7 445.8,195.1 451.1,173.5 456.3,155.9 461.6,154.1 466.8,165.1 472,174.4 477.3,166.8 482.5,171.4 487.8,191.5 493,196.4 498.2,185.1 503.5,182.9 508.7,189.4 514,187.8 519.2,180.3 524.4,178.8 529.7,182.3 534.9,178.7 540.2,178 545.4,180.7 550.6,186.8 555.9,204.1 561.1,218.3 566.4,216.4 571.6,202.8 576.8,197.6 582.1,189.6 587.3,183.5 592.6,183.2 597.8,187.7 603,184.8 608.3,177.3 613.5,176 618.7,177.5 624,171.2 629.2,171.5 634.5,183.2 639.7,187 644.9,185.9 650.2,179.8 655.4,172.4 660.7,166.6 665.3,165.6" fill="none" stroke="#ff0000" stroke-width="0.6" stroke-linejoin="round" stroke-opacity="0.75"/>
<path d="M414.4,151 419.6,156.4 424.9,177.4 430.1,195.5 435.4,183.4 440.6,157.4 445.8,133.6 451.1,118.6 456.3,114.1 461.6,111.6 466.8,113.8 472,133.2 477.3,167 482.5,183.7 487.8,179.3 493,168.8 498.2,163.7 503.5,164.6 508.7,175 514,178 519.2,170.5 524.4,173.3 529.7,191.9 534.9,217.7 540.2,220.8 545.4,216.9 550.6,205.8 555.9,192.6 561.1,186.1 566.4,192.2 571.6,204.6 576.8,207.4 582.1,192.5 587.3,175.6 592.6,174.6 597.8,184.7 603,202.7 608.3,209.1 613.5,195.8 618.7,193.2 624,206.2 629.2,203.7 634.5,191.8 639.7,190.3 644.9,188 650.2,181.2 655.4,181.7 660.7,188.6 665.3,192.7" fill="none" stroke="#ff00ff" stroke-width="0.6" stroke-linejoin="round" stroke-opacity="0.75"/>
<path d="M414.4,176 419.6,180.8 424.9,188.3 430.1,188.5 435.4,182.7 440.6,167.4 445.8,155.2 451.1,150.1 456.3,146 461.6,161.9 466.8,178.7 472,170.2 477.3,158.9 482.5,162.2 487.8,170.9 493,175.4 498.2,172.5 503.5,166.5 508.7,168.8 514,170.6 519.2,177.4 524.4,206.2 529.7,221.8 534.9,223.7 540.2,220.6 545.4,201.7 550.6,176.8 555.9,171.2 561.1,190.4 566.4,198.7 571.6,182.8 576.8,171.2 582.1,177.5 587.3,191.2 592.6,193.5 597.8,185.4 603,178.5 608.3,170.5 613.5,168.9 618.7,178.8 624,191.4 629.2,190.9 634.5,167.3 639.7,155.8 644.9,169.5 650.2,181.9 655.4,182.6 660.7,181 665.3,181.1" fill="none" stroke="#000000" stroke-width="0.6" stroke-linejoin="round" stroke-opacity="0.75"/>
<path d="M414.4,214.4 419.6,216.2 424.9,216.9 430.1,218 435.4,218.7 440.6,201.8 445.8,170.4 451.1,150.2 456.3,139.9 461.6,130.7 466.8,124.2 472,125.8 477.3,129 482.5,129.4 487.8,132.2 493,145.8 498.2,171.5 503.5,193.4 508.7,194.3 514,193.1 519.2,200.9 524.4,200.5 529.7,189.9 534.9,189.4 540.2,201.8 545.4,212.9 550.6,212 555.9,198.6 561.1,177.7 566.4,169 571.6,188.3 576.8,206.3 582.1,198.6 587.3,195.8 592.6,210.1 597.8,213.4 603,196 608.3,176.9 613.5,166.5 618.7,166.6 624,180.3 629.2,193.9 634.5,194 639.7,183.6 644.9,183.3 650.2,203.6 655.4,222.5 660.7,223.9 665.3,220.7" fill="none" stroke="#ff00ff" stroke-width="0.6" stroke-linejoin="round" stroke-opacity="0.75"/>
<path d="M414.4,200.8 419.6,200.8 424.9,200.8 430.1,192.7 435.4,187.8 440.6,197.6 445.8,204.1 451.1,193 456.3,159.6 461.6,123.4 466.8,116.4 472,127.7 477.3,140.8 482.5,142.4 487.8,151.9 493,166.6 498.2,186 503.5,206.4 508.7,206.5 514,205.6 519.2,210.5 524.4,207.8 529.7,200.9 534.9,195.3 540.2,180.2 545.4,171.1 550.6,182.9 555.9,196 561.1,205.2 566.4,202.5 571.6,183.4 576.8,175.1 582.1,185.3 587.3,192.5 592.6,195.3 597.8,195.9 603,197.2 608.3,197.3 613.5,184.1 618.7,170.9 624,162.9 629.2,172.1 634.5,198.2 639.7,217.8 644.9,215.7 650.2,198.8 655.4,190.9 660.7,190.9 665.3,193.6" fill="none" stroke="#ff0000" stroke-width="0.6" stroke-linejoin="round" stroke-opacity="0.75"/>
<path d="M414.4,183.8 419.6,183.3 424.9,188.9 430.1,196.8 435.4,195.7 440.6,179.9 445.8,152.5 451.1,144.8 456.3,154 461.6,160.6 466.8,166.3 472,179.3 477.3,190.8 482.5,178.6 487.8,174.3 493,193.5 498.2,200.7 503.5,199.7 508.7,202.1 514,199.9 519.2,193.5 524.4,188.5 529.7,174.1 534.9,164.9 540.2,173 545.4,193.4 550.6,217.2 555.9,222.1 561.1,218.9 566.4,194.9 571.6,184 576.8,195.3 582.1,200.1 587.3,207.8 592.6,216.2 597.8,204.9 603,184.1 608.3,172.6 613.5,169.1 618.7,157.3 624,146.3 629.2,157.4 634.5,172.5 639.7,160.7 644.9,133.4 650.2,122.6 655.4,133.7 660.7,143.8 665.3,146" fill="none" stroke="#000000" stroke-width="0.6" stroke-linejoin="round" stroke-opacity="0.75"/>
<path d="M414.4,209.5 419.6,208.7 424.9,195.6 430.1,169.1 435.4,146.4 440.6,135.4 445.8,127.2 451.1,125.1 456.3,132 461.6,120.4 466.8,111.3 472,111.7 477.3,117 482.5,129.1 487.8,155.3 493,170.5 498.2,164.4 503.5,161.4 508.7,174.7 514,168.5 519.2,148.9 524.4,157.6 529.7,185.2 534.9,198.7 540.2,187.1 545.4,171.7 550.6,170.7 555.9,182.1 561.1,183.5 566.4,175.7 571.6,169 576.8,160.8 582.1,162.9 587.3,168.9 592.6,165.8 597.8,158.5 603,159.1 608.3,162.1 613.5,169.5 618.7,176.2 624,173.6 629.2,158.1 634.5,149 639.7,150.7 644.9,151.2 650.2,163.8 655.4,177.9 660.7,179.6 665.3,178.7" fill="none" stroke="#ff0000" stroke-width="0.6" stroke-linejoin="round" stroke-opacity="0.75"/>
<path d="M414.4,181.4 419.6,179.4 424.9,180.9 430.1,183.4 435.4,167.4 440.6,139.1 445.8,122.8 451.1,125.5 456.3,141.3 461.6,157.3 466.8,150.6 472,135.7 477.3,140 482.5,148.5 487.8,134.9 493,132.2 498.2,164 503.5,188.6 508.7,181.2 514,172 519.2,166.8 524.4,154.2 529.7,159.4 534.9,187.2 540.2,197.9 545.4,184.2 550.6,181.1 555.9,198.5 561.1,207.8 566.4,205.6 571.6,201.2 576.8,190.4 582.1,182.8 587.3,184.4 592.6,183 597.8,187.2 603,199.9 608.3,204.3 613.5,192.7 618.7,184.9 624,182.3 629.2,170.9 634.5,167.1 639.7,181 644.9,192.6 650.2,184.1 655.4,168 660.7,164.2 665.3,167" fill="none" stroke="#000000" stroke-width="0.6" stroke-linejoin="round" stroke-opacity="0.75"/>
<path d="M414.4,199.9 419.6,190.8 424.9,181.6 430.1,183.8 435.4,182.4 440.6,168.1 445.8,142.9 451.1,125.7 456.3,118 461.6,111.2 466.8,113.7 472,123.3 477.3,134.8 482.5,140.8 487.8,147.3 493,165.5 498.2,186.5 503.5,202.9 508.7,219.4 514,224.5 519.2,219.1 524.4,200.4 529.7,191.4 534.9,190.4 540.2,191.5 545.4,187.7 550.6,180.4 555.9,184.3 561.1,199.8 566.4,201.7 571.6,182.3 576.8,166.4 582.1,172.7 587.3,186.5 592.6,193.7 597.8,195.5 603,186.8 608.3,165.5 613.5,157.6 618.7,181.9 624,211.6 629.2,209.6 634.5,189.4 639.7,177.4 644.9,162.9 650.2,163.6 655.4,172.8 660.7,173.4 665.3,172.7" fill="none" stroke="#8b0000" stroke-width="0.6" stroke-linejoin="round" stroke-opacity="0.75"/>
<path d="M414.4,162.3 419.6,174.1 424.9,196.6 430.1,195.1 435.4,167.2 440.6,149.5 445.8,153.8 451.1,166.8 456.3,172.2 461.6,164.6 466.8,157.9 472,162.2 477.3,160.1 482.5,140.2 487.8,120.7 493,121.2 498.2,136.5 503.5,146.5 508.7,154.8 514,166.1 519.2,178.9 524.4,187.7 529.7,183.6 534.9,169.4 540.2,168.8 545.4,188.4 550.6,199.6 555.9,187.8 561.1,156.9 566.4,138.9 571.6,157.3 576.8,175.9 582.1,164.7 587.3,160.5 592.6,193.1 597.8,220.4 603,219.8 608.3,206.5 613.5,195.9 618.7,193.5 624,204.7 629.2,206.5 634.5,193.2 639.7,173.5 644.9,161.6 650.2,160.1 655.4,168.4 660.7,181.7 665.3,186.7" fill="none" stroke="#000000" stroke-width="0.6" stroke-linejoin="round" stroke-opacity="0.75"/>
<path d="M414.4,225.4 419.6,225.1 424.9,223.3 430.1,219.7 435.4,200.5 440.6,166.9 445.8,147.5 451.1,137.8 456.3,129.5 461.6,133.3 466.8,139.5 472,141.5 477.3,158.2 482.5,171.5 487.8,166.9 493,181.1 498.2,195.1 503.5,184.5 508.7,177 514,171.7 519.2,162.5 524.4,164.2 529.7,174.7 534.9,183.5 540.2,191.9 545.4,202.2 550.6,202.4 555.9,189.5 561.1,185 566.4,186.4 571.6,189 576.8,197 582.1,196.6 587.3,192.2 592.6,201.3 597.8,210.1 603,191.7 608.3,164.2 613.5,159.6 618.7,166.3 624,181.6 629.2,195.3 634.5,206.7 639.7,209.8 644.9,191.8 650.2,178.5 655.4,194.2 660.7,207.5 665.3,207.2" fill="none" stroke="#8b0000" stroke-width="0.6" stroke-linejoin="round" stroke-opacity="0.75"/>
<path d="M414.4,218.3 419.6,216 424.9,199.4 430.1,187 435.4,184.4 440.6,178.1 445.8,163.9 451.1,157.7 456.3,163.2 461.6,166.6 466.8,172.5 472,183.2 477.3,186.4 482.5,180.6 487.8,179.9 493,186.9 498.2,182.4 503.5,170.7 508.7,177.7 514,197.8 519.2,203.4 524.4,204 529.7,205.4 534.9,192.2 540.2,170.5 545.4,169.6 550.6,184.5 555.9,193 561.1,194.2 566.4,190.7 571.6,187.2 576.8,190.2 582.1,197.6 587.3,205.4 592.6,202.7 597.8,199.5 603,197.7 608.3,191.7 613.5,188.6 618.7,184.2 624,178.8 629.2,186.2 634.5,195.3 639.7,190.4 644.9,180 650.2,193.5 655.4,218.3 660.7,218.7 665.3,212.9" fill="none" stroke="#ff00ff" stroke-width="0.6" stroke-linejoin="round" stroke-opacity="0.75"/>
<path d="M414.4,184.1 419.6,180 424.9,175.5 430.1,176.3 435.4,175.5 440.6,158.8 445.8,131.9 451.1,117.4 456.3,115.4 461.6,118.4 466.8,122.2 472,125.8 477.3,132.7 482.5,141.4 487.8,152.2 493,161 498.2,159.5 503.5,168 508.7,189 514,192.1 519.2,175.6 524.4,160 529.7,159.3 534.9,163.5 540.2,173.9 545.4,191.5 550.6,190.3 555.9,165.3 561.1,148 566.4,150.7 571.6,166.8 576.8,186.9 582.1,192.8 587.3,183.2 592.6,176.9 597.8,180.9 603,178.9 608.3,167.5 613.5,170.4 618.7,192.8 624,209.8 629.2,217.5 634.5,211 639.7,192.2 644.9,183.7 650.2,172.1 655.4,161.2 660.7,168.4 665.3,177.5" fill="none" stroke="#8b0000" stroke-width="0.6" stroke-linejoin="round" stroke-opacity="0.75"/>
<path d="M414.4,174.1 419.6,172.9 424.9,176.6 430.1,177.4 435.4,166.1 440.6,150.6 445.8,137.5 451.1,135.5 456.3,143.8 461.6,142.8 466.8,138.3 472,148.4 477.3,169.6 482.5,191.4 487.8,197 493,194.7 498.2,192.4 503.5,200.9 508.7,218.2 514,219.3 519.2,211.5 524.4,202.6 529.7,193.7 534.9,191.3 540.2,188.6 545.4,174.5 550.6,167.7 555.9,177.8 561.1,195.3 566.4,212.4 571.6,221 576.8,220.9 582.1,204.9 587.3,184.5 592.6,180.1 597.8,183.9 603,192.6 608.3,196 613.5,188.2 618.7,184.7 624,195.1 629.2,192.7 634.5,172.8 639.7,156.6 644.9,145.3 650.2,143.8 655.4,163.9 660.7,184.4 665.3,191.3" fill="none" stroke="#000000" stroke-width="0.6" stroke-linejoin="round" stroke-opacity="0.75"/>
<path d="M414.4,178.3 419.6,175.7 424.9,169.6 430.1,172.6 435.4,181.5 440.6,186.7 445.8,178.3 451.1,164.6 456.3,153.6 461.6,152.8 466.8,160.2 472,153.8 477.3,146.4 482.5,168.5 487.8,187.6 493,180.3 498.2,175 503.5,179.9 508.7,181.1 514,173.5 519.2,171.8 524.4,182.5 529.7,199.5 534.9,215.1 540.2,216.9 545.4,214.6 550.6,208.6 555.9,205.2 561.1,212.1 566.4,210.7 571.6,199.4 576.8,182.4 582.1,173.6 587.3,178.1 592.6,190.9 597.8,188.2 603,172.6 608.3,180.2 613.5,186.1 618.7,165.4 624,154.1 629.2,170.2 634.5,181.5 639.7,173 644.9,163.9 650.2,168.4 655.4,180.4 660.7,184 665.3,182.3" fill="none" stroke="#8b0000" stroke-width="0.6" stroke-linejoin="round" stroke-opacity="0.75"/>
<path d="M414.4,184.4 419.6,198.7 424.9,210.9 430.1,191.8 435.4,165.9 440.6,144.7 445.8,128 451.1,119.3 456.3,114.9 461.6,115 466.8,131.4 472,163.4 477.3,174.6 482.5,169.5 487.8,171.2 493,169.5 498.2,159.2 503.5,150.1 508.7,150.9 514,158.1 519.2,159.5 524.4,168.2 529.7,190.5 534.9,196.9 540.2,187.2 545.4,168.8 550.6,159.3 555.9,178.5 561.1,202.2 566.4,205.3 571.6,196.2 576.8,191.7 582.1,178.7 587.3,151 592.6,143.2 597.8,165.5 603,179.2 608.3,173.5 613.5,164.6 618.7,152.8 624,146.9 629.2,155.1 634.5,168.6 639.7,170.8 644.9,158.9 650.2,162.3 655.4,182.1 660.7,185.5 665.3,180" fill="none" stroke="#00ff00" stroke-width="0.6" stroke-linejoin="round" stroke-opacity="0.75"/>
<path d="M414.4,174.5 419.6,166.5 424.9,150.6 430.1,138 435.4,135.2 440.6,141.1 445.8,136.9 451.1,122 456.3,123.3 461.6,140.8 466.8,146.5 472,137.4 477.3,137.2 482.5,143.7 487.8,141.4 493,147.1 498.2,156.5 503.5,162.9 508.7,181.3 514,198.4 519.2,189.9 524.4,170.4 529.7,167.9 534.9,180.3 540.2,190.4 545.4,203 550.6,216.5 555.9,213.2 561.1,198.1 566.4,189.6 571.6,189.8 576.8,185.5 582.1,188.1 587.3,199 592.6,193.4 597.8,164 603,159.5 608.3,191.9 613.5,217.2 618.7,218.7 624,204.3 629.2,189.4 634.5,189.4 639.7,183.1 644.9,164.8 650.2,173.8 655.4,202.8 660.7,212 665.3,209.4" fill="none" stroke="#ff0000" stroke-width="0.6" stroke-linejoin="round" stroke-opacity="0.75"/>
<path d="M414.4,195.9 419.6,192.2 424.9,180 430.1,155.8 435.4,129.4 440.6,122 445.8,136.9 451.1,154.8 456.3,158 461.6,153.5 466.8,155.5 472,164.8 477.3,163.4 482.5,151.2 487.8,150.1 493,163.2 498.2,186.5 503.5,212.5 508.7,211.3 514,194.7 519.2,183.1 524.4,180.7 529.7,179.5 534.9,178.7 540.2,180.8 545.4,186.1 550.6,200.4 555.9,211.8 561.1,207.3 566.4,199.6 571.6,204.5 576.8,217.2 582.1,219.8 587.3,209.9 592.6,185.8 597.8,173.4 603,176.3 608.3,185.9 613.5,187.7 618.7,183.4 624,172.9 629.2,161.9 634.5,169.6 639.7,170.5 644.9,174.3 650.2,207.8 655.4,225.4 660.7,225.4 665.3,225.4" fill="none" stroke="#ff00ff" stroke-width="0.6" stroke-linejoin="round" stroke-opacity="0.75"/>
<path d="M414.4,213.5 419.6,210.7 424.9,207.6 430.1,201.5 435.4,185.5 440.6,166 445.8,157 451.1,157.1 456.3,161.5 461.6,158.6 466.8,139.5 472,123.7 477.3,133.9 482.5,168 487.8,184.7 493,177.6 498.2,171.9 503.5,178.2 508.7,192.1 514,197.7 519.2,183.5 524.4,168.7 529.7,182.4 534.9,212.4 540.2,222.8 545.4,225.1 550.6,218.4 555.9,190.9 561.1,181 566.4,191.5 571.6,200.4 576.8,202.7 582.1,198.2 587.3,201.6 592.6,210.7 597.8,212.9 603,197 608.3,175.2 613.5,173.7 618.7,186.3 624,200.3 629.2,209.4 634.5,213.5 639.7,211.2 644.9,205.2 650.2,199.7 655.4,182.5 660.7,164.9 665.3,159.9" fill="none" stroke="#00ff00" stroke-width="0.6" stroke-linejoin="round" stroke-opacity="0.75"/>
<path d="M414.4,217.6 419.6,217.7 424.9,214.9 430.1,200.2 435.4,183 440.6,172 445.8,155.5 451.1,127.8 456.3,118.9 461.6,120.6 466.8,122.6 472,126.2 477.3,139.7 482.5,161.2 487.8,176.4 493,178.9 498.2,183 503.5,189.7 508.7,190.3 514,183.6 519.2,175.8 524.4,165.8 529.7,156.9 534.9,162.7 540.2,177.9 545.4,193.8 550.6,202.6 555.9,198 561.1,198.9 566.4,200.9 571.6,198 576.8,197.8 582.1,198.7 587.3,209 592.6,214.9 597.8,201.6 603,188.9 608.3,187.7 613.5,186.7 618.7,186 624,181.6 629.2,171.7 634.5,159.3 639.7,156.2 644.9,183.7 650.2,217.9 655.4,224.9 660.7,222.5 665.3,219.3" fill="none" stroke="#ff0000" stroke-width="0.6" stroke-linejoin="round" stroke-opacity="0.75"/>
<path d="M414.4,225.4 419.6,225.4 424.9,221 430.1,212.7 435.4,204.3 440.6,199.9 445.8,194.6 451.1,182.7 456.3,163.1 461.6,149.2 466.8,152.5 472,160.3 477.3,159.3 482.5,159.7 487.8,164.4 493,171.1 498.2,186 503.5,203 508.7,208.3 514,206.2 519.2,189.8 524.4,171 529.7,183.5 534.9,199.8 540.2,199.6 545.4,201 550.6,201 555.9,191.2 561.1,181.4 566.4,180.1 571.6,189.7 576.8,204.9 582.1,204.4 587.3,195 592.6,197.3 597.8,201.5 603,209.6 608.3,211.2 613.5,199.5 618.7,205.4 624,221 629.2,221.8 634.5,219.8 639.7,220.5 644.9,219.5 650.2,216.8 655.4,205.5 660.7,205.7 665.3,209.3" fill="none" stroke="#ff00ff" stroke-width="0.6" stroke-linejoin="round" stroke-opacity="0.75"/>
<path d="M414.4,212.1 419.6,220.2 424.9,225.4 430.1,220.1 435.4,202.4 440.6,188.6 445.8,170.7 451.1,149.8 456.3,134.2 461.6,126.9 466.8,128.8 472,147.5 477.3,170.3 482.5,190.4 487.8,203.7 493,204.5 498.2,197.3 503.5,187.3 508.7,180.4 514,174.8 519.2,178.3 524.4,186 529.7,173 534.9,151 540.2,152.4 545.4,163 550.6,174.4 555.9,198.5 561.1,209.3 566.4,201.6 571.6,209.2 576.8,219.3 582.1,217.9 587.3,211.2 592.6,206.8 597.8,194.4 603,179.7 608.3,174.3 613.5,180.9 618.7,188.1 624,193.5 629.2,215.3 634.5,220.8 639.7,215.1 644.9,193.2 650.2,174.4 655.4,161.8 660.7,158.6 665.3,159.6" fill="none" stroke="#ff00ff" stroke-width="0.6" stroke-linejoin="round" stroke-opacity="0.75"/>
<path d="M414.4,151.1 419.6,154.1 424.9,163.6 430.1,167.8 435.4,165.3 440.6,165.6 445.8,164.1 451.1,153.7 456.3,137.6 461.6,130.3 466.8,123.5 472,117.9 477.3,127.2 482.5,157.7 487.8,182.2 493,193.3 498.2,201.8 503.5,211.5 508.7,205.3 514,187.5 519.2,181.5 524.4,182.6 529.7,174.5 534.9,180 540.2,202.3 545.4,206.5 550.6,188.1 555.9,176.2 561.1,170.3 566.4,150.2 571.6,135.7 576.8,147.8 582.1,168.2 587.3,194.8 592.6,217.3 597.8,219.6 603,210 608.3,185.3 613.5,173 618.7,172.9 624,179.7 629.2,189.7 634.5,194.4 639.7,199 644.9,208 650.2,217.6 655.4,217.9 660.7,209.8 665.3,204.9" fill="none" stroke="#000000" stroke-width="0.6" stroke-linejoin="round" stroke-opacity="0.75"/>
<path d="M414.4,190.3 419.6,184.3 424.9,174.6 430.1,164.2 435.4,149.2 440.6,151.3 445.8,165.3 451.1,158 456.3,145.1 461.6,152.4 466.8,156.9 472,143.1 477.3,142.7 482.5,161.8 487.8,177.4 493,194.6 498.2,200.6 503.5,195.3 508.7,198.4 514,207.3 519.2,214.7 524.4,210.3 529.7,196 534.9,201.6 540.2,216.3 545.4,212.9 550.6,199.3 555.9,203.6 561.1,218.2 566.4,220.2 571.6,217.4 576.8,205.9 582.1,195.2 587.3,182.4 592.6,172.4 597.8,175.9 603,190.6 608.3,196.4 613.5,188 618.7,183.6 624,191.3 629.2,194.8 634.5,195.7 639.7,196.6 644.9,185.5 650.2,179.4 655.4,177.5 660.7,178.5 665.3,182.5" fill="none" stroke="#8b0000" stroke-width="0.6" stroke-linejoin="round" stroke-opacity="0.75"/>
<path d="M414.4,180.3 419.6,177.1 424.9,179.8 430.1,190.2 435.4,190.7 440.6,178 445.8,161.7 451.1,136.1 456.3,119.4 461.6,120.7 466.8,131.1 472,141.4 477.3,154.2 482.5,172.9 487.8,184.5 493,194.9 498.2,200.5 503.5,189.4 508.7,175 514,172.5 519.2,172.4 524.4,182.1 529.7,193.5 534.9,193.8 540.2,189.4 545.4,184.3 550.6,187.6 555.9,197.7 561.1,193.8 566.4,185.3 571.6,183.1 576.8,176.9 582.1,166.5 587.3,176.2 592.6,195.7 597.8,201.4 603,197.2 608.3,189.5 613.5,182 618.7,173.3 624,163.8 629.2,174.4 634.5,187.3 639.7,189.5 644.9,197.7 650.2,208.3 655.4,197.4 660.7,182.2 665.3,179.1" fill="none" stroke="#8b0000" stroke-width="0.6" stroke-linejoin="round" stroke-opacity="0.75"/>
<path d="M414.4,182.2 419.6,183.4 424.9,189.7 430.1,195.7 435.4,188.7 440.6,162.8 445.8,122.3 451.1,110 456.3,115.4 461.6,122.5 466.8,120.6 472,126.3 477.3,138.1 482.5,152.4 487.8,171.4 493,192.3 498.2,205.2 503.5,205.1 508.7,201.2 514,189 519.2,193.9 524.4,201.4 529.7,177.2 534.9,145.9 540.2,139.6 545.4,151.8 550.6,162.1 555.9,165.2 561.1,167.5 566.4,173.7 571.6,182.5 576.8,192.3 582.1,198.9 587.3,205.6 592.6,195.5 597.8,170.1 603,155.8 608.3,163.9 613.5,196.3 618.7,217.4 624,205.4 629.2,180.9 634.5,181.6 639.7,199 644.9,201.6 650.2,197.5 655.4,203.3 660.7,198.8 665.3,187.2" fill="none" stroke="#8b0000" stroke-width="0.6" stroke-linejoin="round" stroke-opacity="0.75"/>
<path d="M414.4,148.4 419.6,145.6 424.9,140.8 430.1,145.4 435.4,158.4 440.6,160 445.8,150.1 451.1,143.7 456.3,137 461.6,121 466.8,117 472,121.2 477.3,128.8 482.5,137.6 487.8,159.5 493,174.6 498.2,177.2 503.5,175.8 508.7,178.7 514,181.6 519.2,167 524.4,155.2 529.7,163.6 534.9,157.3 540.2,134.5 545.4,128.1 550.6,150.4 555.9,174.6 561.1,170 566.4,150.6 571.6,150.5 576.8,165.1 582.1,166 587.3,162.1 592.6,167.3 597.8,177.6 603,196.4 608.3,196.2 613.5,177.3 618.7,170.8 624,169.4 629.2,163 634.5,164 639.7,154.5 644.9,139.8 650.2,142.3 655.4,160.3 660.7,184.7 665.3,195.8" fill="none" stroke="#00ff00" stroke-width="0.6" stroke-linejoin="round" stroke-opacity="0.75"/>
<path d="M414.4,186.2 419.6,182.1 424.9,174.1 430.1,175.9 435.4,178.7 440.6,167.1 445.8,150.3 451.1,141.4 456.3,141.2 461.6,138.5 466.8,145.1 472,154.6 477.3,162.1 482.5,177.1 487.8,183.7 493,178.1 498.2,176.7 503.5,187.7 508.7,200.3 514,210.8 519.2,221.5 524.4,224.4 529.7,218.7 534.9,204.9 540.2,200.2 545.4,198.2 550.6,199.7 555.9,199.1 561.1,182.9 566.4,162.9 571.6,165.4 576.8,186.3 582.1,207.7 587.3,210.9 592.6,190.6 597.8,174.7 603,167.1 608.3,166.5 613.5,173.2 618.7,184.8 624,206.9 629.2,217.5 634.5,215.4 639.7,199 644.9,175.9 650.2,168.3 655.4,178.1 660.7,190.9 665.3,195.1" fill="none" stroke="#ff00ff" stroke-width="0.6" stroke-linejoin="round" stroke-opacity="0.75"/>
<path d="M414.4,207.6 419.6,205.5 424.9,200.2 430.1,187.2 435.4,179.5 440.6,170.2 445.8,146.1 451.1,137.1 456.3,148.8 461.6,157.3 466.8,157.8 472,160.9 477.3,172.8 482.5,183.8 487.8,188.1 493,196.5 498.2,203.9 503.5,198.8 508.7,181.9 514,170.7 519.2,177 524.4,192.1 529.7,196.5 534.9,200.5 540.2,214.1 545.4,217 550.6,210.5 555.9,211.2 561.1,211.4 566.4,199.4 571.6,179.9 576.8,172.6 582.1,174.5 587.3,177.5 592.6,184.2 597.8,180.9 603,167.2 608.3,156.2 613.5,151.2 618.7,170.1 624,195.3 629.2,208.5 634.5,205.4 639.7,202.9 644.9,205.2 650.2,203.6 655.4,193.9 660.7,174.3 665.3,162.3" fill="none" stroke="#000000" stroke-width="0.6" stroke-linejoin="round" stroke-opacity="0.75"/>
<path d="M414.4,198.1 419.6,194.3 424.9,185.3 430.1,173.6 435.4,168.8 440.6,170.9 445.8,173.5 451.1,172.6 456.3,167.6 461.6,161.6 466.8,166 472,169.9 477.3,166 482.5,168.3 487.8,170.4 493,167.9 498.2,169.2 503.5,181.2 508.7,191.1 514,196.8 519.2,201.3 524.4,194.8 529.7,188.3 534.9,191.9 540.2,195.2 545.4,190.5 550.6,180.3 555.9,173.4 561.1,173.7 566.4,175.9 571.6,175.3 576.8,181.7 582.1,195.1 587.3,211.8 592.6,215.4 597.8,204.5 603,196.5 608.3,197.5 613.5,216 618.7,222.2 624,219.9 629.2,213.6 634.5,211.8 639.7,207.6 644.9,200.5 650.2,196.9 655.4,183.3 660.7,173.6 665.3,175.6" fill="none" stroke="#000000" stroke-width="0.6" stroke-linejoin="round" stroke-opacity="0.75"/>
<path d="M414.4,221.2 419.6,218.3 424.9,199.2 430.1,189.5 435.4,192.2 440.6,180.9 445.8,164 451.1,148.5 456.3,138.6 461.6,133.7 466.8,128.8 472,133.6 477.3,155.3 482.5,186.5 487.8,192.6 493,177.9 498.2,191 503.5,215.3 508.7,217 514,209.6 519.2,219 524.4,223.6 529.7,218.9 534.9,208.4 540.2,212.3 545.4,211.3 550.6,184.1 555.9,164.9 561.1,172.1 566.4,181.5 571.6,174.4 576.8,169.6 582.1,182.8 587.3,191.5 592.6,196.3 597.8,202 603,198.5 608.3,181.7 613.5,165.7 618.7,178 624,206.4 629.2,215.8 634.5,199.9 639.7,181.1 644.9,174.6 650.2,171.3 655.4,172.6 660.7,179.9 665.3,182.7" fill="none" stroke="#ff00ff" stroke-width="0.6" stroke-linejoin="round" stroke-opacity="0.75"/>
<path d="M414.4,181.3 419.6,181.1 424.9,177.9 430.1,170.6 435.4,179 440.6,199.6 445.8,200.6 451.1,177.2 456.3,141.4 461.6,118 466.8,117.9 472,121.2 477.3,121.7 482.5,121.9 487.8,130.5 493,151 498.2,164.1 503.5,159.4 508.7,157.8 514,171.6 519.2,184.7 524.4,187.5 529.7,189.9 534.9,187.4 540.2,182.7 545.4,191.9 550.6,203.8 555.9,204.5 561.1,193.6 566.4,187.5 571.6,191 576.8,189.8 582.1,186.8 587.3,173.3 592.6,154.6 597.8,161.7 603,180.7 608.3,179.3 613.5,159.4 618.7,156.9 624,162.6 629.2,165 634.5,175.9 639.7,192 644.9,204.5 650.2,203.1 655.4,186.4 660.7,162 665.3,149.6" fill="none" stroke="#ff0000" stroke-width="0.6" stroke-linejoin="round" stroke-opacity="0.75"/>
<path d="M414.4,186.7 419.6,184.1 424.9,175.8 430.1,173.1 435.4,181.2 440.6,170.8 445.8,147.7 451.1,134.5 456.3,124 461.6,116.5 466.8,112.8 472,112.5 477.3,117.9 482.5,133.7 487.8,151.2 493,171.1 498.2,189.5 503.5,188.6 508.7,181.5 514,184.1 519.2,186.6 524.4,187.9 529.7,194.4 534.9,199.9 540.2,194.9 545.4,201.4 550.6,221.3 555.9,225 561.1,216.8 566.4,194.4 571.6,182.6 576.8,183.8 582.1,191 587.3,185.8 592.6,178.4 597.8,186.6 603,203.1 608.3,207.3 613.5,198 618.7,191.4 624,195.3 629.2,192.8 634.5,170.5 639.7,150.1 644.9,154 650.2,176.6 655.4,190.2 660.7,195.9 665.3,200.6" fill="none" stroke="#ff00ff" stroke-width="0.6" stroke-linejoin="round" stroke-opacity="0.75"/>
<path d="M414.4,219.9 419.6,217.8 424.9,199.8 430.1,177.9 435.4,168.1 440.6,162.9 445.8,157.3 451.1,154.2 456.3,160.5 461.6,164.4 466.8,165.4 472,170.1 477.3,173.7 482.5,176.4 487.8,172.4 493,165 498.2,177 503.5,200.1 508.7,208.6 514,203.7 519.2,191.6 524.4,173.7 529.7,169.9 534.9,177.9 540.2,184.8 545.4,193.8 550.6,199.3 555.9,206.8 561.1,210.8 566.4,195.8 571.6,183.9 576.8,180.2 582.1,174.1 587.3,177.2 592.6,175.9 597.8,162.7 603,161 608.3,160.9 613.5,147.9 618.7,148.2 624,162 629.2,164.6 634.5,174.9 639.7,194.4 644.9,194.4 650.2,198.3 655.4,198.9 660.7,185.1 665.3,179.4" fill="none" stroke="#8b0000" stroke-width="0.6" stroke-linejoin="round" stroke-opacity="0.75"/>
<path d="M414.4,194 419.6,193.6 424.9,198.7 430.1,200.8 435.4,186.6 440.6,164.7 445.8,148.7 451.1,146.2 456.3,154 461.6,158.4 466.8,152.9 472,136.1 477.3,122.7 482.5,135.7 487.8,154.6 493,161.4 498.2,162.7 503.5,168.6 508.7,185.1 514,200.5 519.2,207.3 524.4,208.8 529.7,218.6 534.9,223.1 540.2,215.1 545.4,186.5 550.6,177.5 555.9,181.3 561.1,178.4 566.4,171 571.6,183.8 576.8,205 582.1,203.9 587.3,192 592.6,185.3 597.8,174.6 603,179.7 608.3,203.4 613.5,209.6 618.7,200.1 624,192.6 629.2,183.6 634.5,171.2 639.7,167.4 644.9,177 650.2,187 655.4,187.6 660.7,186.9 665.3,188" fill="none" stroke="#ff0000" stroke-width="0.6" stroke-linejoin="round" stroke-opacity="0.75"/>
<path d="M414.4,195.4 419.6,186.8 424.9,178.8 430.1,184.2 435.4,179.8 440.6,170 445.8,177.2 451.1,183.5 456.3,172.8 461.6,162.2 466.8,152.7 472,140.2 477.3,135.3 482.5,152.5 487.8,173.4 493,179.7 498.2,179.1 503.5,170.8 508.7,159.3 514,166.3 519.2,191.3 524.4,208.6 529.7,191.5 534.9,158.7 540.2,149.4 545.4,161.4 550.6,182.4 555.9,197.4 561.1,188.1 566.4,173.9 571.6,176.4 576.8,182.4 582.1,179 587.3,184.7 592.6,206.1 597.8,218.7 603,221.5 608.3,224.1 613.5,224.6 618.7,223.9 624,223 629.2,222.1 634.5,221.4 639.7,215.4 644.9,196.6 650.2,191.7 655.4,196.4 660.7,200.1 665.3,201.2" fill="none" stroke="#8b0000" stroke-width="0.6" stroke-linejoin="round" stroke-opacity="0.75"/>
<path d="M414.4,179.4 419.6,176.3 424.9,168.6 430.1,158.1 435.4,153.6 440.6,147.5 445.8,132.3 451.1,124.4 456.3,123.4 461.6,119.9 466.8,131 472,161.1 477.3,180.5 482.5,178.6 487.8,161.7 493,148.4 498.2,146.8 503.5,144.3 508.7,137.8 514,153.2 519.2,178.5 524.4,191.4 529.7,196.1 534.9,194.4 540.2,187.1 545.4,183.1 550.6,173.1 555.9,161.1 561.1,162.5 566.4,172.1 571.6,175.8 576.8,173.5 582.1,176.4 587.3,173.4 592.6,175 597.8,189.1 603,191.9 608.3,197.9 613.5,205.9 618.7,194.8 624,180.5 629.2,176.3 634.5,175.5 639.7,179.9 644.9,190.2 650.2,212.1 655.4,222.1 660.7,223.2 665.3,223.4" fill="none" stroke="#000000" stroke-width="0.6" stroke-linejoin="round" stroke-opacity="0.75"/>
<path d="M414.4,168 419.6,165.2 424.9,164.1 430.1,168.4 435.4,186.2 440.6,204.1 445.8,200.8 451.1,180.2 456.3,155.1 461.6,143.4 466.8,148.3 472,156.7 477.3,160.1 482.5,159.2 487.8,168.7 493,176.8 498.2,165.8 503.5,157.8 508.7,156.7 514,142.9 519.2,126.4 524.4,129.5 529.7,150.1 534.9,162.3 540.2,156.9 545.4,151.8 550.6,159.4 555.9,173.7 561.1,182.1 566.4,175.5 571.6,172.2 576.8,180.4 582.1,187.6 587.3,186.9 592.6,182.3 597.8,179 603,174.1 608.3,173 613.5,178.4 618.7,185 624,194.2 629.2,200.3 634.5,201.6 639.7,200.5 644.9,193.4 650.2,186.2 655.4,189 660.7,194.1 665.3,194.3" fill="none" stroke="#000000" stroke-width="0.6" stroke-linejoin="round" stroke-opacity="0.75"/>
<path d="M414.4,202.3 419.6,193.4 424.9,175.8 430.1,167.2 435.4,168.8 440.6,159.3 445.8,137.7 451.1,129.7 456.3,127.3 461.6,129.4 466.8,139.9 472,142.1 477.3,148 482.5,157.1 487.8,168.6 493,188.8 498.2,195.1 503.5,197.7 508.7,213.9 514,216.6 519.2,208 524.4,201.5 529.7,198 534.9,191.4 540.2,182.8 545.4,185.2 550.6,197.1 555.9,199.9 561.1,184.6 566.4,175.7 571.6,180.4 576.8,182.6 582.1,182.6 587.3,173.5 592.6,157.6 597.8,155.4 603,169.3 608.3,188.5 613.5,204.2 618.7,211.4 624,205.7 629.2,196.4 634.5,184.7 639.7,167.1 644.9,162.2 650.2,169.5 655.4,169.4 660.7,160.3 665.3,157.4" fill="none" stroke="#8b0000" stroke-width="0.6" stroke-linejoin="round" stroke-opacity="0.75"/>
<path d="M414.4,185.9 419.6,188.5 424.9,190 430.1,178.7 435.4,163.7 440.6,157.7 445.8,148 451.1,135.2 456.3,131 461.6,130.7 466.8,127.2 472,118.6 477.3,116.4 482.5,120.4 487.8,136.8 493,156.5 498.2,177.2 503.5,203.4 508.7,217.6 514,217.4 519.2,209.4 524.4,189.8 529.7,179.8 534.9,193.1 540.2,205.4 545.4,200.3 550.6,181.7 555.9,170.4 561.1,173.5 566.4,177.1 571.6,167.9 576.8,151.7 582.1,145 587.3,154.4 592.6,175 597.8,196.1 603,206.2 608.3,204.3 613.5,204.6 618.7,200.2 624,187.2 629.2,180.5 634.5,179.1 639.7,183.1 644.9,200 650.2,208.2 655.4,194.5 660.7,190.4 665.3,196.7" fill="none" stroke="#ff00ff" stroke-width="0.6" stroke-linejoin="round" stroke-opacity="0.75"/>
<path d="M414.4,146.5 419.6,145.8 424.9,156.1 430.1,173.3 435.4,176.8 440.6,172.3 445.8,165.2 451.1,148.1 456.3,137.9 461.6,140.2 466.8,149.3 472,152.1 477.3,145.2 482.5,138.7 487.8,128.9 493,120.9 498.2,127.7 503.5,147.9 508.7,154.2 514,149.5 519.2,154.7 524.4,174.4 529.7,187.2 534.9,182.4 540.2,187 545.4,195.7 550.6,194.5 555.9,201.2 561.1,204.4 566.4,190.4 571.6,179.2 576.8,180.5 582.1,183.6 587.3,183.3 592.6,179.3 597.8,171.9 603,167.1 608.3,178.2 613.5,198.7 618.7,202.1 624,195.9 629.2,186.4 634.5,172.2 639.7,159.1 644.9,160.4 650.2,179.8 655.4,194.3 660.7,189 665.3,181.7" fill="none" stroke="#00ff00" stroke-width="0.6" stroke-linejoin="round" stroke-opacity="0.75"/>
<path d="M414.4,150.9 419.6,160.1 424.9,182.3 430.1,201.4 435.4,206.2 440.6,191.3 445.8,165.6 451.1,143.7 456.3,128.3 461.6,125.8 466.8,131.6 472,128.4 477.3,128.4 482.5,148.8 487.8,172 493,177.2 498.2,192.9 503.5,213.4 508.7,202.9 514,177.5 519.2,167.9 524.4,164.6 529.7,157.2 534.9,161.1 540.2,185.1 545.4,201.5 550.6,189.6 555.9,178.5 561.1,188.1 566.4,198.7 571.6,201.2 576.8,201.6 582.1,197.9 587.3,177.8 592.6,156.3 597.8,151.4 603,165.9 608.3,181.3 613.5,181.5 618.7,171.7 624,155 629.2,136.6 634.5,141.7 639.7,169 644.9,191.2 650.2,197.1 655.4,184.1 660.7,172.7 665.3,172.1" fill="none" stroke="#ff0000" stroke-width="0.6" stroke-linejoin="round" stroke-opacity="0.75"/>
<path d="M414.4,204.4 419.6,185.6 424.9,163.9 430.1,165.7 435.4,174.5 440.6,181 445.8,183.1 451.1,163.9 456.3,135.9 461.6,134.1 466.8,155.4 472,166.2 477.3,168.4 482.5,173.5 487.8,170.1 493,170.6 498.2,178.3 503.5,187.2 508.7,200.6 514,213.1 519.2,203.5 524.4,185.1 529.7,190 534.9,200.1 540.2,189.4 545.4,174.3 550.6,170.4 555.9,183.9 561.1,203 566.4,208.6 571.6,201.1 576.8,204.9 582.1,213.4 587.3,216.5 592.6,216 597.8,205.9 603,194.9 608.3,188.2 613.5,178.8 618.7,175.9 624,188.9 629.2,197.1 634.5,182.7 639.7,167.7 644.9,172 650.2,181.5 655.4,175.7 660.7,167.1 665.3,166.8" fill="none" stroke="#00ff00" stroke-width="0.6" stroke-linejoin="round" stroke-opacity="0.75"/>
<path d="M414.4,224.2 419.6,222.9 424.9,216.7 430.1,200.9 435.4,195.1 440.6,176.9 445.8,150.1 451.1,132.3 456.3,122.3 461.6,128 466.8,147 472,167.4 477.3,181.9 482.5,194.8 487.8,191 493,178 498.2,187.9 503.5,199.4 508.7,198.9 514,201.9 519.2,202.3 524.4,196.8 529.7,193.1 534.9,197.6 540.2,199.7 545.4,198.3 550.6,203.1 555.9,218.1 561.1,219.6 566.4,211 571.6,202.8 576.8,195 582.1,192.5 587.3,185.9 592.6,177.1 597.8,183.7 603,189.8 608.3,187.3 613.5,183.4 618.7,176.6 624,167.9 629.2,170.4 634.5,178.6 639.7,176.6 644.9,170.5 650.2,178.4 655.4,185.6 660.7,188.4 665.3,190.5" fill="none" stroke="#ff0000" stroke-width="0.6" stroke-linejoin="round" stroke-opacity="0.75"/>
<path d="M413.4,137.9 418.4,153.3 423.5,169.9 429.8,180 436.1,200 441.1,213.3 446.1,216.7 449.9,186.6 452.7,129.9 458.7,106.5 464.8,81.8 469.8,75.8 475.4,83.8 480.4,98.5 484.9,113.2 491,129.9 495.5,146.6 500.3,166.6 508.4,121.9 514.9,149.9 519.7,173.3 524.5,186.6 529.3,176.6 534.3,193.3 539.4,181.3 543.9,190" fill="none" stroke="#00ff00" stroke-width="0.8" stroke-linejoin="round" />
<path d="M413.4,219.8 415,220.2 416.5,220.5 418.1,220.6 419.7,220.7 421.3,220.7 422.8,220.4 424.4,219.8 426,218.8 427.6,217.8 429.1,216.8 430.7,216 432.3,215.2 433.9,214.3 435.4,213.4 437,212.3 438.6,211 440.2,209.4 441.7,207.5 443.3,205.4 444.9,203.3 446.5,200.8 448,198.1 449.6,195.5 451.2,193.7 452.8,192.5 454.3,191.5 455.9,191 457.5,191 459.1,191.8 460.6,193 462.2,194.4 463.8,196.2 465.4,198.8 466.9,201.6 468.5,204 470.1,206.1 471.7,208 473.2,209.6 474.8,210.9 476.4,211.7 477.9,212.4 479.5,213.1 481.1,214 482.7,215.2 484.2,216.6 485.8,218.1 487.4,219.2 489,219.8 490.5,220.1 492.1,220.3 493.7,220.4 495.3,220.1 496.8,219.2 498.4,218.4 500,218.6 501.6,219.1 503.1,219.9 504.7,220.6 506.3,221 507.9,221 509.4,220.8 511,220.5 512.6,220.3 514.2,220.1 515.7,220 517.3,219.9 518.9,219.8 520.5,219.8 522,219.7 523.6,219.7 525.2,219.7 526.8,219.9 528.3,220.5 529.9,221.2 531.5,221.9 533.1,222.6 534.6,223 536.2,223.1 537.8,222.7 539.4,222 540.9,221.4 542.5,221 544.1,221.1 545.6,221.3 547.2,221.7 548.8,222 550.4,222.2 551.9,222.3 553.5,222.1 555.1,221.8 556.7,221.4 558.2,221 559.8,220.6 561.4,220.3 563,220.2 564.5,220.3 566.1,220.8 567.7,221.4 569.3,221.8 570.8,222.1 572.4,222.4 574,222.5 575.6,222.7 577.1,222.9 578.7,223 580.3,223.1 581.9,223.3 583.4,223.4 585,223.5 586.6,223.6 588.2,223.6 589.7,223.5 591.3,223.2 592.9,222.7 594.5,222.2 596,221.7 597.6,221.3 599.2,221 600.8,221 602.3,221.2 603.9,221.4 605.5,221.7 607,222.1 608.6,222.4 610.2,222.8 611.8,223 613.3,223.1 614.9,223.3 616.5,223.4 618.1,223.6 619.6,223.7 621.2,223.8 622.8,223.9 624.4,223.9 625.9,223.9 627.5,223.9 629.1,223.8 630.7,223.8 632.2,223.7 633.8,223.7 635.4,223.6 637,223 638.5,222 640.1,220.9 641.7,219.9 643.3,219.4 644.8,219.5 646.4,219.7 648,220 649.6,220.2 651.1,220.3 652.7,220.2 654.3,220.1 655.9,220.1 657.4,220 659,220 660.6,220.1 662.2,220.2 663.7,220.4 665.3,220.6" fill="none" stroke="#0000ff" stroke-width="3.2" stroke-linejoin="round" />
<path d="M415.8,383.1 420.7,390.2 425.7,395.5 430.6,401.2 435.6,425.1 440.5,427.2 445.5,426.1 450.4,424 455.4,409.9 460.3,383.5 465.3,360.2 470.2,367.5 475.2,375.8 480.1,367.7 485.1,394 490,432.8 494.9,420.9 499.9,405.5 504.8,414 509.8,416.1 514.7,418.1 519.7,430 524.6,461.3 529.6,466.3 534.5,442 539.5,404 544.4,389.6 549.4,410.3 554.3,418.3 559.3,399.9 564.2,385.2 569.1,380.2 574.1,417.5 579,459.1 584,460.8 588.9,459.3 593.9,460.7 598.8,452.4 603.8,441.1 608.7,432.6 613.7,423.2 618.6,407 623.6,399.9 628.5,406.1 633.4,429.7 638.4,463.5 643.3,467.4 648.3,451.2 653.2,436.8 658.2,444.9 663.1,430.9 668.1,394.2 672.1,371.1" fill="none" stroke="#1a1a1a" stroke-width="0.6" stroke-linejoin="round" stroke-opacity="0.7"/>
<path d="M415.8,427.3 420.7,430.8 425.7,412.2 430.6,393.4 435.6,390.1 440.5,386.3 445.5,409.7 450.4,424.4 455.4,434.7 460.3,447.7 465.3,453.2 470.2,443.3 475.2,433.5 480.1,423.4 485.1,395.3 490,394.6 494.9,421.2 499.9,412.4 504.8,400.8 509.8,381.4 514.7,358.9 519.7,363.6 524.6,395.8 529.6,430.2 534.5,450.7 539.5,432.6 544.4,425.5 549.4,418 554.3,401 559.3,373.7 564.2,359.4 569.1,361.9 574.1,379.9 579,400.6 584,402.7 588.9,409.6 593.9,416.4 598.8,400.7 603.8,422.8 608.7,426 613.7,378.3 618.6,368.5 623.6,407.4 628.5,400.1 633.4,365.5 638.4,405.1 643.3,453.4 648.3,427.7 653.2,379.2 658.2,374 663.1,377.9 668.1,374.5 672.1,375.2" fill="none" stroke="#0000ff" stroke-width="0.6" stroke-linejoin="round" stroke-opacity="0.8"/>
<path d="M415.8,373.5 420.7,372.8 425.7,377.6 430.6,396.3 435.6,405.5 440.5,414 445.5,412.2 450.4,419.9 455.4,449.8 460.3,449.2 465.3,386 470.2,337.3 475.2,326.8 480.1,341.7 485.1,360.1 490,373.8 494.9,382 499.9,383.1 504.8,402.1 509.8,417.1 514.7,412.5 519.7,417.8 524.6,431.1 529.6,447.1 534.5,430.8 539.5,412.5 544.4,416.8 549.4,410 554.3,396 559.3,383.9 564.2,376.1 569.1,398.3 574.1,418.6 579,439.2 584,463.5 588.9,456.7 593.9,420.5 598.8,399.1 603.8,386.5 608.7,397.5 613.7,400.5 618.6,386.1 623.6,378.7 628.5,384.3 633.4,407.6 638.4,401.8 643.3,385.7 648.3,377.2 653.2,369.2 658.2,376.8 663.1,400.6 668.1,409.1 672.1,402" fill="none" stroke="#1a1a1a" stroke-width="0.6" stroke-linejoin="round" stroke-opacity="0.7"/>
<path d="M415.8,470.3 420.7,470.3 425.7,470.3 430.6,454.9 435.6,435 440.5,401.3 445.5,371.2 450.4,398.6 455.4,425.8 460.3,434.9 465.3,449.9 470.2,458.5 475.2,441.3 480.1,425.8 485.1,449.8 490,470.3 494.9,470.3 499.9,467.2 504.8,446.1 509.8,424.1 514.7,411.9 519.7,410 524.6,419.5 529.6,417.3 534.5,418.2 539.5,436.4 544.4,454.9 549.4,449 554.3,463.9 559.3,462.8 564.2,436.4 569.1,418.2 574.1,403.6 579,424.7 584,449.8 588.9,444.2 593.9,423.7 598.8,389.7 603.8,379.5 608.7,404.3 613.7,429.4 618.6,426.1 623.6,423.3 628.5,446 633.4,446.7 638.4,419.9 643.3,415.2 648.3,435.8 653.2,459.7 658.2,462 663.1,435.9 668.1,442.6 672.1,460.8" fill="none" stroke="#0000ff" stroke-width="0.6" stroke-linejoin="round" stroke-opacity="0.8"/>
<path d="M415.8,427.1 420.7,408.5 425.7,396.3 430.6,402.4 435.6,396.2 440.5,389.7 445.5,376.5 450.4,375.9 455.4,369.7 460.3,358.2 465.3,359.5 470.2,380.3 475.2,418.2 480.1,417.5 485.1,387.4 490,378.4 494.9,388.3 499.9,399.4 504.8,417 509.8,422.2 514.7,424.1 519.7,416.2 524.6,419.3 529.6,418.6 534.5,393.6 539.5,381 544.4,410 549.4,413.6 554.3,393.1 559.3,383.6 564.2,370 569.1,380.4 574.1,390.9 579,376.5 584,360.9 588.9,366.8 593.9,384.6 598.8,411.1 603.8,439 608.7,421.2 613.7,377.8 618.6,367.8 623.6,377.6 628.5,390.1 633.4,403.4 638.4,402.7 643.3,391.6 648.3,364 653.2,347.3 658.2,341.3 663.1,351.7 668.1,375.2 672.1,386.2" fill="none" stroke="#0000ff" stroke-width="0.6" stroke-linejoin="round" stroke-opacity="0.8"/>
<path d="M415.8,453.1 420.7,445 425.7,430.8 430.6,434.6 435.6,445 440.5,429.4 445.5,382.7 450.4,383.2 455.4,405.1 460.3,391 465.3,402.3 470.2,448.5 475.2,447.6 480.1,421.3 485.1,404.6 490,409.1 494.9,412.6 499.9,390.5 504.8,356.8 509.8,351.5 514.7,377.6 519.7,358.9 524.6,316.6 529.6,346.4 534.5,382.5 539.5,388.3 544.4,382.1 549.4,380.2 554.3,399.1 559.3,415.8 564.2,403.3 569.1,381.7 574.1,372.4 579,406.2 584,442.7 588.9,430.9 593.9,404.6 598.8,431 603.8,460.9 608.7,443.3 613.7,409.2 618.6,397.8 623.6,409.6 628.5,398.9 633.4,396.9 638.4,413.7 643.3,398.5 648.3,361 653.2,357.3 658.2,366.8 663.1,379.8 668.1,382.5 672.1,387.8" fill="none" stroke="#0000ff" stroke-width="0.6" stroke-linejoin="round" stroke-opacity="0.8"/>
<path d="M415.8,404.3 420.7,392.7 425.7,405.5 430.6,418.8 435.6,385.9 440.5,384.4 445.5,420.4 450.4,396.9 455.4,338 460.3,325 465.3,356.3 470.2,380 475.2,373.2 480.1,370.5 485.1,391.3 490,412.7 494.9,415.6 499.9,424.6 504.8,436.1 509.8,418.9 514.7,417.3 519.7,417.9 524.6,408 529.6,389.8 534.5,370.7 539.5,373.2 544.4,415.5 549.4,441.9 554.3,437.3 559.3,429.4 564.2,422.3 569.1,428.9 574.1,416.8 579,393.9 584,389 588.9,390.3 593.9,381 598.8,400.3 603.8,437.1 608.7,431 613.7,423.2 618.6,433.7 623.6,437.8 628.5,425.1 633.4,411 638.4,397.5 643.3,383.1 648.3,396 653.2,428.7 658.2,434.8 663.1,422.6 668.1,428.5 672.1,432" fill="none" stroke="#1a1a1a" stroke-width="0.6" stroke-linejoin="round" stroke-opacity="0.7"/>
<path d="M415.8,382.6 420.7,335.5 425.7,304.9 430.6,322 435.6,376.5 440.5,423.1 445.5,428.9 450.4,398.1 455.4,382.2 460.3,412.7 465.3,448.3 470.2,436.3 475.2,403.4 480.1,421.4 485.1,454.5 490,455.3 494.9,456.5 499.9,453.6 504.8,447.1 509.8,436.8 514.7,421.2 519.7,424.2 524.6,427.9 529.6,414.2 534.5,420.3 539.5,449.5 544.4,454.1 549.4,450.9 554.3,450.3 559.3,451 564.2,436.8 569.1,429.8 574.1,440.5 579,452.3 584,455.5 588.9,462 593.9,460.4 598.8,443.8 603.8,430.4 608.7,406.2 613.7,418.2 618.6,451 623.6,448.4 628.5,444 633.4,435.8 638.4,444.3 643.3,462 648.3,449.1 653.2,424.6 658.2,417.8 663.1,429.5 668.1,429.1 672.1,431.9" fill="none" stroke="#0000ff" stroke-width="0.6" stroke-linejoin="round" stroke-opacity="0.8"/>
<path d="M415.8,418.2 420.7,423 425.7,429.7 430.6,427.6 435.6,411.1 440.5,374.6 445.5,366.2 450.4,397 455.4,429.3 460.3,450.6 465.3,434 470.2,406.2 475.2,396.6 480.1,392.3 485.1,388.4 490,398 494.9,398.9 499.9,402.2 504.8,442.6 509.8,457.2 514.7,445.6 519.7,436 524.6,420.8 529.6,395.7 534.5,371.5 539.5,349.7 544.4,348.5 549.4,373.5 554.3,404.7 559.3,434.4 564.2,441.3 569.1,417.1 574.1,389.3 579,378.4 584,369.1 588.9,365.9 593.9,380.4 598.8,396.1 603.8,379.2 608.7,360.9 613.7,358.2 618.6,370.2 623.6,393.5 628.5,407.4 633.4,424 638.4,442.1 643.3,429.5 648.3,405.2 653.2,396.5 658.2,406.5 663.1,392.5 668.1,374.7 672.1,379.8" fill="none" stroke="#1a1a1a" stroke-width="0.6" stroke-linejoin="round" stroke-opacity="0.7"/>
<path d="M415.8,393.1 420.7,407.2 425.7,425.9 430.6,424.7 435.6,427.3 440.5,431 445.5,425.1 450.4,413.1 455.4,402.4 460.3,401.9 465.3,417.4 470.2,397.3 475.2,365.9 480.1,366.2 485.1,361.3 490,358.1 494.9,359.8 499.9,385.8 504.8,422 509.8,426.6 514.7,431.3 519.7,443.7 524.6,443.7 529.6,451 534.5,446.3 539.5,418.6 544.4,411.7 549.4,426.1 554.3,433.9 559.3,428.1 564.2,420.9 569.1,415.7 574.1,410.9 579,403.9 584,383.5 588.9,360 593.9,345.8 598.8,343.2 603.8,341.7 608.7,349 613.7,378.7 618.6,424.4 623.6,467.2 628.5,468.1 633.4,421.6 638.4,379.7 643.3,362 648.3,369.2 653.2,388.9 658.2,411 663.1,420.4 668.1,404 672.1,399.1" fill="none" stroke="#0000ff" stroke-width="0.6" stroke-linejoin="round" stroke-opacity="0.8"/>
<path d="M415.8,412.2 420.7,407.7 425.7,390.6 430.6,369.3 435.6,358.4 440.5,357.7 445.5,377.7 450.4,393.4 455.4,396.2 460.3,390.2 465.3,400.7 470.2,426.9 475.2,442.3 480.1,427.6 485.1,391.1 490,365.8 494.9,384.5 499.9,420.4 504.8,423.3 509.8,410.3 514.7,404.1 519.7,395.1 524.6,387.3 529.6,402.7 534.5,436.5 539.5,457.1 544.4,452.5 549.4,447.7 554.3,427.4 559.3,420 564.2,433 569.1,425.1 574.1,398.1 579,373.7 584,400.1 588.9,433.8 593.9,416.6 598.8,403.4 603.8,412.6 608.7,412.3 613.7,395.9 618.6,389.6 623.6,406.1 628.5,431.1 633.4,446 638.4,462.3 643.3,463.5 648.3,454 653.2,442.4 658.2,406.2 663.1,366.4 668.1,386.3 672.1,412.1" fill="none" stroke="#0000ff" stroke-width="0.6" stroke-linejoin="round" stroke-opacity="0.8"/>
<path d="M415.8,433.1 420.7,421.7 425.7,390 430.6,362.2 435.6,374.9 440.5,374.7 445.5,377 450.4,395 455.4,415.9 460.3,444.9 465.3,430.7 470.2,429.4 475.2,462.7 480.1,452.7 485.1,416.4 490,424.7 494.9,444 499.9,440.4 504.8,424.5 509.8,404.2 514.7,404.7 519.7,422.9 524.6,429.5 529.6,407.1 534.5,375.1 539.5,356.2 544.4,337.5 549.4,337.7 554.3,361 559.3,375.8 564.2,383.1 569.1,410.1 574.1,446.5 579,456.7 584,437.1 588.9,428.9 593.9,429.9 598.8,423.6 603.8,410 608.7,396.1 613.7,381.5 618.6,371.6 623.6,370.4 628.5,388.2 633.4,411.9 638.4,414.8 643.3,410 648.3,409.6 653.2,397.1 658.2,399.6 663.1,436 668.1,448.2 672.1,433" fill="none" stroke="#0000ff" stroke-width="0.6" stroke-linejoin="round" stroke-opacity="0.8"/>
<path d="M415.8,423.9 420.7,416.6 425.7,386.6 430.6,386.4 435.6,410.8 440.5,421.5 445.5,419.4 450.4,422.9 455.4,432.4 460.3,427.4 465.3,403.2 470.2,403.9 475.2,415.3 480.1,437.1 485.1,455.9 490,434 494.9,423.3 499.9,424.8 504.8,426.7 509.8,426.7 514.7,418 519.7,432.9 524.6,448.3 529.6,440.3 534.5,416.2 539.5,409.3 544.4,433.2 549.4,439 554.3,412.6 559.3,388 564.2,340.2 569.1,309.7 574.1,311.5 579,327.1 584,344.6 588.9,369 593.9,387.9 598.8,373.8 603.8,368.3 608.7,409.8 613.7,450.5 618.6,462.4 623.6,462.2 628.5,454.7 633.4,452.4 638.4,449.4 643.3,450.3 648.3,467.3 653.2,445.4 658.2,382 663.1,369.4 668.1,384.9 672.1,391.4" fill="none" stroke="#0000ff" stroke-width="0.6" stroke-linejoin="round" stroke-opacity="0.8"/>
<path d="M415.8,409.2 420.7,409.5 425.7,417.7 430.6,430.2 435.6,448.3 440.5,425.3 445.5,398.9 450.4,400.3 455.4,403.3 460.3,407.8 465.3,433.9 470.2,441.3 475.2,413.8 480.1,390.1 485.1,397.7 490,411 494.9,410.5 499.9,424 504.8,464.5 509.8,470.3 514.7,470.3 519.7,465.7 524.6,460.7 529.6,458.7 534.5,443.9 539.5,419.2 544.4,410.1 549.4,399.4 554.3,390.1 559.3,410.8 564.2,415.4 569.1,411.3 574.1,441.5 579,444.5 584,405.6 588.9,391.5 593.9,391 598.8,388.2 603.8,396.2 608.7,417.8 613.7,433.1 618.6,438.1 623.6,423.9 628.5,415.6 633.4,410.6 638.4,377.7 643.3,362.1 648.3,395.6 653.2,394.9 658.2,379.8 663.1,389.8 668.1,406.9 672.1,405.2" fill="none" stroke="#0000ff" stroke-width="0.6" stroke-linejoin="round" stroke-opacity="0.8"/>
<path d="M415.8,451.7 420.7,432.6 425.7,424.1 430.6,440 435.6,460 440.5,462.5 445.5,429.6 450.4,392.5 455.4,387.5 460.3,415.3 465.3,441.8 470.2,439.4 475.2,402.2 480.1,392.7 485.1,420.4 490,429.6 494.9,438 499.9,464.5 504.8,470.3 509.8,461.3 514.7,444.8 519.7,464.5 524.6,470.3 529.6,470.3 534.5,437.4 539.5,413.6 544.4,427.4 549.4,442.5 554.3,448.4 559.3,444.2 564.2,442.4 569.1,440.1 574.1,431.6 579,415.8 584,414.8 588.9,441.9 593.9,448.1 598.8,459.6 603.8,470.3 608.7,470.3 613.7,458.7 618.6,456.2 623.6,453.3 628.5,443.9 633.4,449.6 638.4,441.8 643.3,424.9 648.3,407.6 653.2,411.4 658.2,427.5 663.1,422.3 668.1,424.3 672.1,428.8" fill="none" stroke="#0000ff" stroke-width="0.6" stroke-linejoin="round" stroke-opacity="0.8"/>
<path d="M415.8,381.7 420.7,398.1 425.7,442.1 430.6,448.6 435.6,405.6 440.5,366.7 445.5,358.5 450.4,366.4 455.4,392 460.3,410 465.3,399.6 470.2,404.7 475.2,434.1 480.1,440.6 485.1,427.2 490,440.2 494.9,463.2 499.9,439.3 504.8,412.9 509.8,409.5 514.7,404.9 519.7,410.4 524.6,422.6 529.6,417.9 534.5,423.7 539.5,428 544.4,404.9 549.4,400.3 554.3,444.9 559.3,466.1 564.2,443.9 569.1,396.1 574.1,400.7 579,422.7 584,441.8 588.9,460.3 593.9,460.7 598.8,432.4 603.8,431.3 608.7,460.3 613.7,460.7 618.6,440.8 623.6,417.6 628.5,394.3 633.4,370.6 638.4,361 643.3,362.1 648.3,384.8 653.2,422.7 658.2,420.3 663.1,393.9 668.1,394.2 672.1,401.6" fill="none" stroke="#0000ff" stroke-width="0.6" stroke-linejoin="round" stroke-opacity="0.8"/>
<path d="M415.8,401.6 420.7,385.6 425.7,363.9 430.6,351.9 435.6,347.8 440.5,341.9 445.5,340 450.4,359.9 455.4,369 460.3,375.8 465.3,402.1 470.2,413.8 475.2,411 480.1,410.2 485.1,420.2 490,421.5 494.9,415.9 499.9,421.8 504.8,426.6 509.8,425.5 514.7,450.7 519.7,463.4 524.6,448.9 529.6,420.5 534.5,429.6 539.5,451.3 544.4,449 549.4,437.1 554.3,449.3 559.3,449.6 564.2,434.7 569.1,441.1 574.1,437.3 579,428.5 584,426.2 588.9,410.8 593.9,400.9 598.8,430.9 603.8,463.3 608.7,465.9 613.7,447.4 618.6,428.6 623.6,423.1 628.5,431.6 633.4,440.8 638.4,443.7 643.3,436 648.3,425.6 653.2,420.7 658.2,399.1 663.1,377.7 668.1,404.2 672.1,432.8" fill="none" stroke="#0000ff" stroke-width="0.6" stroke-linejoin="round" stroke-opacity="0.8"/>
<path d="M415.8,424.7 420.7,443.9 425.7,449 430.6,414.1 435.6,383.9 440.5,399.3 445.5,446.6 450.4,455.9 455.4,436.7 460.3,424.1 465.3,409.8 470.2,391.3 475.2,379.1 480.1,395.1 485.1,406.2 490,401.4 494.9,403 499.9,421.5 504.8,426.9 509.8,439.6 514.7,435.8 519.7,399.8 524.6,379.3 529.6,376.4 534.5,386.8 539.5,394.3 544.4,398.8 549.4,402.1 554.3,399.3 559.3,390.8 564.2,396.3 569.1,387.9 574.1,391.8 579,394 584,395 588.9,386.5 593.9,379.9 598.8,403.9 603.8,424.3 608.7,415.4 613.7,423.8 618.6,441.9 623.6,410.5 628.5,404.7 633.4,435.1 638.4,426.3 643.3,414.7 648.3,432.4 653.2,434.8 658.2,418.5 663.1,395.1 668.1,384.9 672.1,388.9" fill="none" stroke="#1a1a1a" stroke-width="0.6" stroke-linejoin="round" stroke-opacity="0.7"/>
<path d="M415.8,398.8 420.7,394.8 425.7,396.5 430.6,416.8 435.6,432.5 440.5,434.6 445.5,411.5 450.4,385.9 455.4,387.5 460.3,379.1 465.3,373.9 470.2,379.4 475.2,396.4 480.1,415.1 485.1,397.8 490,385.3 494.9,409.4 499.9,424.1 504.8,425 509.8,421.6 514.7,414.2 519.7,397.2 524.6,417 529.6,422.7 534.5,381.8 539.5,369.4 544.4,382.9 549.4,397.8 554.3,413.1 559.3,409.5 564.2,388.7 569.1,375.7 574.1,380.6 579,401 584,416.9 588.9,405.6 593.9,377.6 598.8,375.9 603.8,404 608.7,407.5 613.7,383.2 618.6,377.4 623.6,394.2 628.5,409.3 633.4,387.2 638.4,355.9 643.3,354.6 648.3,374.5 653.2,371.5 658.2,381.5 663.1,407.7 668.1,431.4 672.1,435.7" fill="none" stroke="#0000ff" stroke-width="0.6" stroke-linejoin="round" stroke-opacity="0.8"/>
<path d="M415.8,413.2 420.7,423.7 425.7,430.6 430.6,422.4 435.6,427.7 440.5,439.8 445.5,435.2 450.4,426.9 455.4,438.9 460.3,440.3 465.3,430.8 470.2,420.5 475.2,405.7 480.1,401.4 485.1,430.4 490,426.8 494.9,412.8 499.9,417.9 504.8,434.5 509.8,429.9 514.7,433.8 519.7,418.7 524.6,410.7 529.6,427.1 534.5,447 539.5,449.3 544.4,444.5 549.4,462.1 554.3,470.3 559.3,466.6 564.2,422.2 569.1,397.7 574.1,403.6 579,412.1 584,410.2 588.9,409.5 593.9,423.6 598.8,446.5 603.8,459.2 608.7,456.6 613.7,445.9 618.6,444 623.6,424.5 628.5,404 633.4,405.3 638.4,393.5 643.3,405.5 648.3,456.7 653.2,462.8 658.2,439.7 663.1,428.7 668.1,412 672.1,400.9" fill="none" stroke="#1a1a1a" stroke-width="0.6" stroke-linejoin="round" stroke-opacity="0.7"/>
<path d="M415.8,419.1 420.7,409.6 425.7,392.6 430.6,392.9 435.6,416 440.5,415.5 445.5,386.5 450.4,380.1 455.4,377.2 460.3,373.8 465.3,385.3 470.2,407.6 475.2,428.4 480.1,439.3 485.1,426.1 490,415.1 494.9,392.4 499.9,365.2 504.8,376.6 509.8,409.7 514.7,422.7 519.7,393.3 524.6,380.9 529.6,403.4 534.5,411.6 539.5,417.3 544.4,422.1 549.4,433.9 554.3,445.1 559.3,433.1 564.2,399 569.1,344.7 574.1,333.8 579,363.3 584,386.2 588.9,397 593.9,400.5 598.8,404.8 603.8,414.4 608.7,429.4 613.7,447.9 618.6,448.1 623.6,431 628.5,413 633.4,394.6 638.4,377.2 643.3,395.4 648.3,407.6 653.2,389.7 658.2,363.2 663.1,358.4 668.1,372.4 672.1,392.8" fill="none" stroke="#1a1a1a" stroke-width="0.6" stroke-linejoin="round" stroke-opacity="0.7"/>
<path d="M415.8,401.9 420.7,391.9 425.7,364.9 430.6,366.8 435.6,422.5 440.5,463.5 445.5,462.5 450.4,445.7 455.4,425.4 460.3,406.5 465.3,397.5 470.2,410.6 475.2,417.1 480.1,421.9 485.1,428.4 490,399.6 494.9,366.4 499.9,400.2 504.8,450.3 509.8,456.2 514.7,422 519.7,414.9 524.6,399.4 529.6,361.4 534.5,378.8 539.5,429.9 544.4,424 549.4,392.9 554.3,395.7 559.3,402.9 564.2,370.9 569.1,374.5 574.1,433.8 579,465.4 584,452.6 588.9,406.4 593.9,386.5 598.8,403.8 603.8,421.6 608.7,417.5 613.7,420.2 618.6,450 623.6,458.1 628.5,421.9 633.4,390.8 638.4,396 643.3,411.6 648.3,417.6 653.2,420.8 658.2,440.6 663.1,438.5 668.1,431.7 672.1,430" fill="none" stroke="#1a1a1a" stroke-width="0.6" stroke-linejoin="round" stroke-opacity="0.7"/>
<path d="M415.8,399.1 420.7,393 425.7,399 430.6,404.1 435.6,402.8 440.5,417 445.5,414.4 450.4,402.9 455.4,408.2 460.3,439.9 465.3,453.4 470.2,439 475.2,424.9 480.1,419.1 485.1,414.8 490,401.1 494.9,395.1 499.9,410.3 504.8,420.8 509.8,418 514.7,433.8 519.7,423.4 524.6,404.9 529.6,399.7 534.5,370.4 539.5,356.5 544.4,359.4 549.4,375.6 554.3,391.8 559.3,407.5 564.2,404.6 569.1,400.1 574.1,405.3 579,414.3 584,436.1 588.9,449.3 593.9,420.2 598.8,383.6 603.8,362.1 608.7,375.2 613.7,391.1 618.6,387.9 623.6,392.9 628.5,412.4 633.4,435.5 638.4,442.7 643.3,413.4 648.3,404.2 653.2,441.9 658.2,441.1 663.1,409.1 668.1,398.7 672.1,398.9" fill="none" stroke="#1a1a1a" stroke-width="0.6" stroke-linejoin="round" stroke-opacity="0.7"/>
<path d="M415.8,444 420.7,437.7 425.7,435.8 430.6,411 435.6,380 440.5,388.2 445.5,406.4 450.4,406.1 455.4,395.3 460.3,405.7 465.3,428.4 470.2,407.5 475.2,377.8 480.1,394.3 485.1,433.2 490,460.9 494.9,466.8 499.9,440.2 504.8,400.7 509.8,414.1 514.7,439.7 519.7,440.2 524.6,429.8 529.6,427.6 534.5,433.7 539.5,428.1 544.4,399.1 549.4,389.2 554.3,416 559.3,422.2 564.2,418 569.1,442.4 574.1,447.4 579,433.2 584,424.5 588.9,431.6 593.9,437.3 598.8,437.8 603.8,461 608.7,470.3 613.7,467 618.6,445.9 623.6,442.2 628.5,418.4 633.4,394.8 638.4,397.3 643.3,417.7 648.3,429.8 653.2,431.1 658.2,441.7 663.1,438 668.1,415.7 672.1,413.6" fill="none" stroke="#0000ff" stroke-width="0.6" stroke-linejoin="round" stroke-opacity="0.8"/>
<path d="M415.8,429.9 420.7,419.7 425.7,413.3 430.6,426.7 435.6,440.5 440.5,443.6 445.5,461.1 450.4,465.8 455.4,451.3 460.3,421.1 465.3,428.9 470.2,453.5 475.2,461.1 480.1,430.7 485.1,434.1 490,465.8 494.9,461.7 499.9,425.2 504.8,416.3 509.8,411.3 514.7,446.8 519.7,464.8 524.6,429.9 529.6,407.2 534.5,416.4 539.5,433.8 544.4,431 549.4,427.4 554.3,457.1 559.3,464.3 564.2,440.1 569.1,424.4 574.1,417.2 579,433.3 584,449.3 588.9,462.4 593.9,465 598.8,440.6 603.8,434.8 608.7,424.2 613.7,402.7 618.6,403.6 623.6,405.1 628.5,406 633.4,406.1 638.4,405 643.3,405.7 648.3,418.8 653.2,428.2 658.2,431.6 663.1,437.7 668.1,462.3 672.1,465.2" fill="none" stroke="#1a1a1a" stroke-width="0.6" stroke-linejoin="round" stroke-opacity="0.7"/>
<path d="M415.8,398.9 420.7,398.6 425.7,385.6 430.6,389.1 435.6,426.1 440.5,442.9 445.5,431.4 450.4,406.3 455.4,394 460.3,404.5 465.3,418 470.2,404.6 475.2,372.3 480.1,367.9 485.1,397.5 490,416.4 494.9,398.6 499.9,385.1 504.8,372.2 509.8,360.2 514.7,377.8 519.7,416.6 524.6,413.9 529.6,381.9 534.5,374.7 539.5,381.7 544.4,402.7 549.4,413.2 554.3,387 559.3,364.7 564.2,387.2 569.1,418.4 574.1,420.5 579,409.2 584,386 588.9,359.7 593.9,356.3 598.8,374.3 603.8,398.8 608.7,399.9 613.7,400.8 618.6,404.8 623.6,402.7 628.5,408.9 633.4,414.8 638.4,403.9 643.3,409.7 648.3,414.7 653.2,400.3 658.2,383.4 663.1,361.9 668.1,367.8 672.1,379.4" fill="none" stroke="#0000ff" stroke-width="0.6" stroke-linejoin="round" stroke-opacity="0.8"/>
<path d="M415.8,387.7 420.7,391.2 425.7,394.1 430.6,389.4 435.6,367.4 440.5,361.2 445.5,377.4 450.4,417.6 455.4,457 460.3,454.2 465.3,424.2 470.2,433.1 475.2,464 480.1,440.7 485.1,393.9 490,390.3 494.9,406.7 499.9,406.8 504.8,409.4 509.8,404.9 514.7,385.1 519.7,389.3 524.6,424 529.6,453.1 534.5,462 539.5,441.2 544.4,386.7 549.4,363.7 554.3,379.7 559.3,396.7 564.2,416.1 569.1,411.3 574.1,392.9 579,390 584,393.9 588.9,386.4 593.9,354.3 598.8,335.2 603.8,352.9 608.7,387.8 613.7,415.7 618.6,420.6 623.6,411 628.5,405.1 633.4,414.5 638.4,425.6 643.3,417.1 648.3,405.3 653.2,421.9 658.2,444.5 663.1,441.1 668.1,415.6 672.1,402" fill="none" stroke="#1a1a1a" stroke-width="0.6" stroke-linejoin="round" stroke-opacity="0.7"/>
<path d="M415.8,382.9 420.7,382.8 425.7,400.3 430.6,415.1 435.6,410.9 440.5,389.7 445.5,380.8 450.4,400.8 455.4,428.3 460.3,438.3 465.3,422.3 470.2,415.2 475.2,419.8 480.1,429 485.1,431.9 490,416.7 494.9,391.9 499.9,381.9 504.8,391.2 509.8,399.3 514.7,408.5 519.7,421.3 524.6,422.3 529.6,393.6 534.5,372.2 539.5,375.4 544.4,400.5 549.4,415.4 554.3,419.7 559.3,409.7 564.2,399.3 569.1,393.2 574.1,394.8 579,396.9 584,402 588.9,401.1 593.9,409.4 598.8,413.8 603.8,406.5 608.7,414.4 613.7,443.1 618.6,446 623.6,423 628.5,430.2 633.4,461.5 638.4,463 643.3,436.4 648.3,405 653.2,384.6 658.2,362.6 663.1,349.9 668.1,350 672.1,369.4" fill="none" stroke="#1a1a1a" stroke-width="0.6" stroke-linejoin="round" stroke-opacity="0.7"/>
<path d="M415.8,411.7 420.7,408.3 425.7,394 430.6,400.7 435.6,420.5 440.5,431 445.5,426.7 450.4,401.2 455.4,382.9 460.3,382.9 465.3,357.1 470.2,327.1 475.2,327.4 480.1,323.4 485.1,346.8 490,393.4 494.9,415.1 499.9,405.5 504.8,399.3 509.8,405.5 514.7,397.1 519.7,382.8 524.6,377.8 529.6,374.1 534.5,374.2 539.5,364.9 544.4,358.8 549.4,366.3 554.3,383.2 559.3,395.2 564.2,414.1 569.1,407.2 574.1,381.6 579,364.8 584,365 588.9,395.9 593.9,405.2 598.8,368.5 603.8,370.6 608.7,393.1 613.7,386.3 618.6,408 623.6,440.1 628.5,431.9 633.4,403.5 638.4,385.2 643.3,404.3 648.3,416 653.2,416.5 658.2,421.8 663.1,420 668.1,395.8 672.1,378.7" fill="none" stroke="#0000ff" stroke-width="0.6" stroke-linejoin="round" stroke-opacity="0.8"/>
<path d="M415.8,364.2 420.7,372.6 425.7,402.1 430.6,426.8 435.6,418 440.5,400.9 445.5,395.7 450.4,388.7 455.4,397.8 460.3,412.7 465.3,420.7 470.2,406.5 475.2,388.3 480.1,388.7 485.1,377.6 490,348.4 494.9,337.2 499.9,373 504.8,389.8 509.8,373.1 514.7,371.6 519.7,391.5 524.6,412.3 529.6,432.5 534.5,415.5 539.5,417.4 544.4,451.8 549.4,462.4 554.3,439.7 559.3,411.3 564.2,400.5 569.1,396.3 574.1,390 579,405.3 584,435.7 588.9,437.1 593.9,418.6 598.8,401.8 603.8,400.9 608.7,391.1 613.7,375.6 618.6,363.9 623.6,388.2 628.5,409.6 633.4,408.8 638.4,385.6 643.3,369.8 648.3,405.8 653.2,432 658.2,420.8 663.1,412.1 668.1,418.4 672.1,415.7" fill="none" stroke="#1a1a1a" stroke-width="0.6" stroke-linejoin="round" stroke-opacity="0.7"/>
<path d="M415.8,363.8 420.7,365.4 425.7,391 430.6,426.8 435.6,433.9 440.5,417.4 445.5,398.4 450.4,415.4 455.4,431.9 460.3,421.8 465.3,414.3 470.2,420.6 475.2,419.6 480.1,409.7 485.1,394.1 490,390.3 494.9,406.9 499.9,421.3 504.8,423.6 509.8,421.5 514.7,403.1 519.7,403.7 524.6,430.8 529.6,436.1 534.5,380.1 539.5,359.8 544.4,371.9 549.4,388.4 554.3,372.6 559.3,361.7 564.2,391.6 569.1,399.5 574.1,397.4 579,405.7 584,418.1 588.9,428.5 593.9,425.8 598.8,417.6 603.8,387.4 608.7,396.9 613.7,444.9 618.6,462.3 623.6,435 628.5,417.4 633.4,413 638.4,391.5 643.3,402.5 648.3,435.4 653.2,450.3 658.2,435.6 663.1,415.4 668.1,393.8 672.1,382.5" fill="none" stroke="#1a1a1a" stroke-width="0.6" stroke-linejoin="round" stroke-opacity="0.7"/>
<path d="M415.8,480.5 417.4,480.5 419,480.5 420.6,480.5 422.2,480.5 423.8,480.5 425.4,480.5 427,480.5 428.6,480.2 430.2,479.8 431.8,479.2 433.4,478.4 435,477.5 436.6,476.6 438.2,475.6 439.8,474.6 441.4,473.6 443,472.4 444.6,471 446.2,469.5 447.8,467.8 449.4,466 451,464.1 452.6,461.3 454.2,458 455.8,454.9 457.4,452.6 459.1,451.9 460.7,452.2 462.3,452.8 463.9,453.6 465.5,454.7 467.1,456.9 468.7,460.1 470.3,463.2 471.9,465.6 473.5,467.7 475.1,469.7 476.7,471.3 478.3,472.4 479.9,473.2 481.5,474 483.1,474.6 484.7,475.4 486.3,476.4 487.9,477.8 489.5,479.3 491.1,480.5 492.7,480.9 494.3,480.9 495.9,480.9 497.5,480.9 499.1,480.8 500.7,480.5 502.3,480 503.9,479.5 505.5,479.1 507.1,478.8 508.7,478.8 510.3,479.2 511.9,479.7 513.5,480.4 515.1,480.9 516.7,481.6 518.3,482.3 519.9,482.9 521.5,483.3 523.1,483.2 524.7,482.8 526.3,482.1 527.9,481.4 529.5,480.8 531.1,480.5 532.7,480.6 534.3,481.1 535.9,481.7 537.5,482.4 539.1,483.1 540.7,483.7 542.3,483.9 544,483.8 545.6,483.6 547.2,483.3 548.8,483.1 550.4,482.9 552,482.9 553.6,482.9 555.2,482.9 556.8,482.9 558.4,482.9 560,482.9 561.6,483.2 563.2,483.9 564.8,484.9 566.4,485.8 568,486.4 569.6,486.5 571.2,486.2 572.8,485.7 574.4,485.2 576,484.8 577.6,484.5 579.2,484.5 580.8,484.6 582.4,484.7 584,484.7 585.6,484.8 587.2,484.9 588.8,485 590.4,485 592,484.9 593.6,484.7 595.2,484.5 596.8,484.2 598.4,484.1 600,484 601.6,484.1 603.2,484.2 604.8,484.4 606.4,484.6 608,484.9 609.6,485.2 611.2,485.4 612.8,485.6 614.4,485.8 616,486.1 617.6,486.3 619.2,486.5 620.8,486.7 622.4,486.9 624,487 625.6,487 627.2,486.7 628.8,486.1 630.5,485.4 632.1,484.7 633.7,484.1 635.3,483.7 636.9,483.6 638.5,484.1 640.1,484.6 641.7,485 643.3,484.6 644.9,483.5 646.5,482.1 648.1,480.9 649.7,480.3 651.3,480.4 652.9,480.7 654.5,481 656.1,481.3 657.7,481.4 659.3,481.3 660.9,481 662.5,480.7 664.1,480.4 665.7,480.3 667.3,480.4 668.9,480.7 670.5,481.1 672.1,481.6" fill="none" stroke="#008080" stroke-width="2.6" stroke-linejoin="round" />
<line x1="455.5" y1="70" x2="455.5" y2="111" stroke="#444" stroke-width="0.9" stroke-dasharray="1.2,1.6"/>
<line x1="470" y1="51" x2="470" y2="102" stroke="#444" stroke-width="0.9" stroke-dasharray="1.2,1.6"/>
<line x1="418" y1="76.2" x2="448" y2="76.2" stroke="#222" stroke-width="0.9" />
<path d="M451.9,76.2 L446.6,74.7 L446.6,77.7 Z" fill="#222"/>
<line x1="479" y1="75.4" x2="511.8" y2="75.4" stroke="#222" stroke-width="0.9" />
<path d="M475.5,75.4 L480.8,73.9 L480.8,76.9 Z" fill="#222"/>
<line x1="456.3" y1="296.5" x2="456.3" y2="357" stroke="#444" stroke-width="0.9" stroke-dasharray="1.2,1.6"/>
<text x="412.8" y="13.7" font-size="11" fill="#000" text-anchor="start" font-weight="bold" textLength="100.5" lengthAdjust="spacingAndGlyphs" >Raman anti-Stokes</text>
<text x="668.6" y="17.9" font-size="16.5" fill="#000" text-anchor="start" font-weight="bold" >B</text>
<text x="458.6" y="45.2" font-size="10.5" fill="#000" text-anchor="start" font-weight="bold" textLength="22" lengthAdjust="spacingAndGlyphs" >-877</text>
<text x="431.4" y="59" font-size="10.5" fill="#0000ff" text-anchor="start" font-weight="bold" textLength="22" lengthAdjust="spacingAndGlyphs" >-883</text>
<text x="484.6" y="70.4" font-size="9.8" fill="#000" text-anchor="start" font-weight="bold" textLength="45" lengthAdjust="spacingAndGlyphs" >Variability</text>
<text x="577.4" y="33.2" font-size="10.8" fill="#000" text-anchor="start" font-weight="bold" textLength="70.2" lengthAdjust="spacingAndGlyphs" >RO, 66 wines</text>
<text x="575.6" y="47.4" font-size="10.5" fill="#ff1a1a" text-anchor="start" font-weight="bold" textLength="24.5" lengthAdjust="spacingAndGlyphs" >2012</text>
<text x="573.9" y="59.6" font-size="10.5" fill="#1adf1a" text-anchor="start" font-weight="bold" textLength="24.5" lengthAdjust="spacingAndGlyphs" >2013</text>
<text x="573.9" y="73.8" font-size="10.5" fill="#ff1aff" text-anchor="start" font-weight="bold" textLength="24.5" lengthAdjust="spacingAndGlyphs" >2014</text>
<text x="573.9" y="88.1" font-size="10.5" fill="#7a1010" text-anchor="start" font-weight="bold" textLength="24.5" lengthAdjust="spacingAndGlyphs" >2015</text>
<text x="574.8" y="102" font-size="10.5" fill="#000" text-anchor="start" font-weight="bold" textLength="24.5" lengthAdjust="spacingAndGlyphs" >2016</text>
<text x="438.5" y="223.6" font-size="10.8" fill="#0000ff" text-anchor="start" font-weight="bold" textLength="40" lengthAdjust="spacingAndGlyphs" >Ethanol</text>
<text x="406.5" y="230.5" font-size="10.8" fill="#000" text-anchor="end" font-weight="bold" textLength="21.5" lengthAdjust="spacingAndGlyphs" >0.00</text>
<text x="406.5" y="163.7" font-size="10.8" fill="#000" text-anchor="end" font-weight="bold" textLength="21.5" lengthAdjust="spacingAndGlyphs" >0.01</text>
<text x="406.5" y="97" font-size="10.8" fill="#000" text-anchor="end" font-weight="bold" textLength="21.5" lengthAdjust="spacingAndGlyphs" >0.02</text>
<text x="406.5" y="30.2" font-size="10.8" fill="#000" text-anchor="end" font-weight="bold" textLength="21.5" lengthAdjust="spacingAndGlyphs" >0.03</text>
<text x="413.4" y="242.2" font-size="10.8" fill="#000" text-anchor="middle" font-weight="bold" textLength="21.8" lengthAdjust="spacingAndGlyphs" >-900</text>
<text x="463.8" y="242.2" font-size="10.8" fill="#000" text-anchor="middle" font-weight="bold" textLength="21.8" lengthAdjust="spacingAndGlyphs" >-880</text>
<text x="514.2" y="242.2" font-size="10.8" fill="#000" text-anchor="middle" font-weight="bold" textLength="21.8" lengthAdjust="spacingAndGlyphs" >-860</text>
<text x="564.5" y="242.2" font-size="10.8" fill="#000" text-anchor="middle" font-weight="bold" textLength="21.8" lengthAdjust="spacingAndGlyphs" >-840</text>
<text x="614.9" y="242.2" font-size="10.8" fill="#000" text-anchor="middle" font-weight="bold" textLength="21.8" lengthAdjust="spacingAndGlyphs" >-820</text>
<text x="665.3" y="242.2" font-size="10.8" fill="#000" text-anchor="middle" font-weight="bold" textLength="21.8" lengthAdjust="spacingAndGlyphs" >-800</text>
<text x="491.9" y="263.8" font-size="11.1" fill="#000" text-anchor="start" font-weight="bold" textLength="89.3" lengthAdjust="spacingAndGlyphs" >Wavenumber/cm</text>
<text x="581.5" y="258.5" font-size="7.2" fill="#000" text-anchor="start" font-weight="bold" >-1</text>
<text transform="translate(372.3,106.65) rotate(-90)" font-size="10.4" font-weight="bold" text-anchor="middle" textLength="129.5" lengthAdjust="spacingAndGlyphs">Raman Intensity/Arbitr. Units</text>
<text x="445.4" y="293.5" font-size="10.5" fill="#000" text-anchor="start" font-weight="bold" textLength="22.3" lengthAdjust="spacingAndGlyphs" >-883</text>
<text x="586.4" y="294.8" font-size="11.3" fill="#0000ff" text-anchor="start" font-weight="bold" textLength="96.8" lengthAdjust="spacingAndGlyphs" >17 wines, Fr, 2013</text>
<text x="588.1" y="312.8" font-size="11.3" fill="#000" text-anchor="start" font-weight="bold" textLength="96.8" lengthAdjust="spacingAndGlyphs" >14 wines, Fr, 2012</text>
<text x="440.6" y="481.9" font-size="11" fill="#008080" text-anchor="start" font-weight="bold" textLength="41.5" lengthAdjust="spacingAndGlyphs" >Ethanol</text>
<text x="408.5" y="491" font-size="10.8" fill="#000" text-anchor="end" font-weight="bold" textLength="21.5" lengthAdjust="spacingAndGlyphs" >0.00</text>
<text x="408.5" y="423.4" font-size="10.8" fill="#000" text-anchor="end" font-weight="bold" textLength="21.5" lengthAdjust="spacingAndGlyphs" >0.01</text>
<text x="408.5" y="355.9" font-size="10.8" fill="#000" text-anchor="end" font-weight="bold" textLength="21.5" lengthAdjust="spacingAndGlyphs" >0.02</text>
<text x="408.5" y="288.3" font-size="10.8" fill="#000" text-anchor="end" font-weight="bold" textLength="21.5" lengthAdjust="spacingAndGlyphs" >0.03</text>
<text x="415.8" y="503" font-size="10.8" fill="#000" text-anchor="middle" font-weight="bold" textLength="21.8" lengthAdjust="spacingAndGlyphs" >-900</text>
<text x="467.1" y="503" font-size="10.8" fill="#000" text-anchor="middle" font-weight="bold" textLength="21.8" lengthAdjust="spacingAndGlyphs" >-880</text>
<text x="518.3" y="503" font-size="10.8" fill="#000" text-anchor="middle" font-weight="bold" textLength="21.8" lengthAdjust="spacingAndGlyphs" >-860</text>
<text x="569.6" y="503" font-size="10.8" fill="#000" text-anchor="middle" font-weight="bold" textLength="21.8" lengthAdjust="spacingAndGlyphs" >-840</text>
<text x="620.8" y="503" font-size="10.8" fill="#000" text-anchor="middle" font-weight="bold" textLength="21.8" lengthAdjust="spacingAndGlyphs" >-820</text>
<text x="672.1" y="503" font-size="10.8" fill="#000" text-anchor="middle" font-weight="bold" textLength="21.8" lengthAdjust="spacingAndGlyphs" >-800</text>
<text x="495.5" y="525.5" font-size="11.3" fill="#000" text-anchor="start" font-weight="bold" textLength="91.2" lengthAdjust="spacingAndGlyphs" >Wavenumber/cm</text>
<text x="586.6" y="520" font-size="7.2" fill="#000" text-anchor="start" font-weight="bold" >-1</text>
<text transform="translate(374.0,366.4) rotate(-90)" font-size="10.4" font-weight="bold" text-anchor="middle" textLength="131" lengthAdjust="spacingAndGlyphs">Raman Intensity/Arbitr. Units</text>
</svg>
</body></html>
